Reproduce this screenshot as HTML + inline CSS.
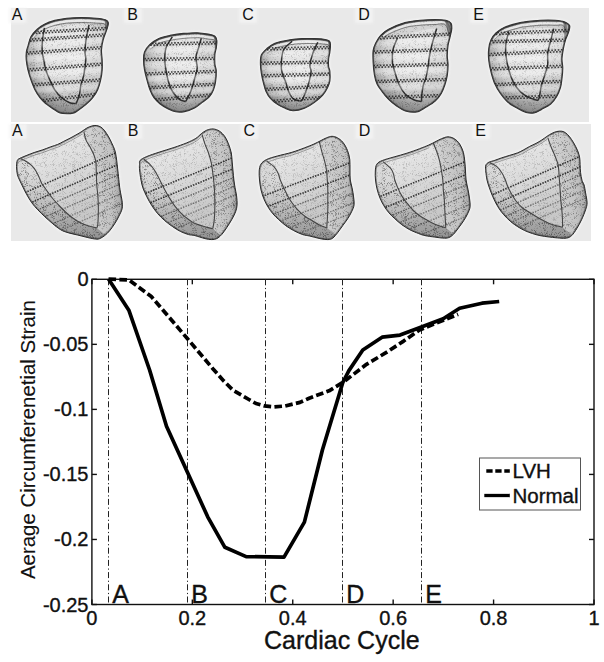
<!DOCTYPE html>
<html><head><meta charset="utf-8"><style>
html,body{margin:0;padding:0;background:#fff;width:604px;height:662px;overflow:hidden}
svg{position:absolute;left:0;top:0}
text{font-family:"Liberation Sans",sans-serif;fill:#111;stroke:#111;stroke-width:0.35px}
.t{font-size:20px}
.L{font-size:25px}
.g{font-size:20.5px}
.xl{font-size:25px}
.yl{font-size:20.4px;stroke-width:0.1px}
.pl{font-size:16px;stroke-width:0}
</style></head><body>
<svg width="604" height="662" viewBox="0 0 604 662">
<defs>

<filter id="grain" x="0" y="0" width="100%" height="100%" color-interpolation-filters="sRGB">
  <feTurbulence type="turbulence" baseFrequency="1.1" numOctaves="1" seed="7" result="n"/>
  <feColorMatrix in="n" type="matrix" values="0 0 0 0 0  0 0 0 0 0  0 0 0 0 0  3 0 0 0 -0.55" result="a"/>
  <feComposite in="a" in2="SourceGraphic" operator="in"/>
</filter>
<linearGradient id="sh1" x1="0" y1="0" x2="0" y2="1"><stop offset="0.55" stop-color="#000" stop-opacity="0"/><stop offset="1" stop-color="#000" stop-opacity="0.2"/></linearGradient>
<linearGradient id="gbot" x1="0" y1="0" x2="0" y2="1"><stop offset="0" stop-color="#777" stop-opacity="0"/><stop offset="0.4" stop-color="#777" stop-opacity="0.12"/><stop offset="1" stop-color="#666" stop-opacity="0.55"/></linearGradient>
<filter id="soft" x="-10%" y="-10%" width="120%" height="120%"><feGaussianBlur stdDeviation="1.2"/></filter>
<radialGradient id="g1" cx="0.58" cy="0.42" r="0.62"><stop offset="0" stop-color="#e0e0e0"/><stop offset="0.7" stop-color="#d0d0d0"/><stop offset="1" stop-color="#989898"/></radialGradient>
<linearGradient id="g2c" x1="0" y1="0" x2="0.3" y2="1"><stop offset="0" stop-color="#f2f2f2"/><stop offset="0.5" stop-color="#e0e0e0"/><stop offset="1" stop-color="#c8c8c8"/></linearGradient>
<linearGradient id="g2r" x1="0" y1="0" x2="1" y2="0"><stop offset="0" stop-color="#d4d4d4"/><stop offset="0.7" stop-color="#c2c2c2"/><stop offset="1" stop-color="#a2a2a2"/></linearGradient>
<radialGradient id="g2b" cx="0.15" cy="0.4" r="0.8"><stop offset="0" stop-color="#e0e0e0"/><stop offset="1" stop-color="#b8b8b8"/></radialGradient>
<clipPath id="c1A"><path d="M28.0,45.8 C28.8,43.3 29.4,39.5 30.9,36.8 C32.4,34.1 34.6,31.5 36.9,29.4 C39.1,27.3 41.4,25.7 44.4,24.2 C47.4,22.7 51.1,21.4 54.8,20.4 C58.5,19.4 62.2,18.7 66.7,18.2 C71.2,17.7 76.6,17.5 81.6,17.5 C86.6,17.5 92.5,17.8 96.5,18.2 C100.5,18.6 103.5,18.9 105.5,19.7 C107.5,20.4 108.2,21.1 108.4,22.7 C108.6,24.3 107.8,26.5 106.9,29.4 C106.0,32.2 104.1,36.4 103.2,39.8 C102.3,43.2 101.7,46.6 101.5,50.0 C101.3,53.4 102.1,56.7 102.2,60.0 C102.3,63.3 102.5,66.6 102.2,69.9 C102.0,73.2 101.5,76.6 100.7,79.9 C100.0,83.2 99.0,86.8 97.7,89.8 C96.4,92.8 94.8,95.2 92.8,97.7 C90.8,100.2 88.3,102.6 85.8,104.7 C83.3,106.8 80.1,109.1 78.0,110.5 C75.9,111.9 74.8,112.8 73.0,113.3 C71.2,113.8 69.2,113.8 67.0,113.8 C64.8,113.8 62.4,113.8 60.0,113.0 C57.6,112.2 55.2,110.2 52.8,108.7 C50.4,107.2 47.9,105.5 45.8,103.7 C43.6,101.9 41.7,100.0 39.9,97.7 C38.1,95.4 36.4,92.8 34.9,89.8 C33.4,86.8 32.1,83.2 30.9,79.9 C29.7,76.6 28.7,73.2 27.9,69.9 C27.1,66.6 26.5,63.0 26.2,60.0 C25.9,57.0 26.0,54.4 26.3,52.0 C26.6,49.6 27.2,48.3 28.0,45.8Z"/></clipPath><clipPath id="c1B"><path d="M149.9,44.4 C152.3,42.1 155.5,39.9 158.8,38.4 C162.2,36.9 165.9,36.2 170.0,35.4 C174.1,34.6 179.1,33.8 183.6,33.4 C188.1,33.0 193.1,32.6 197.2,32.7 C201.3,32.8 205.1,33.5 208.1,34.1 C211.1,34.7 213.4,35.0 214.9,36.1 C216.4,37.2 216.7,39.0 216.9,40.9 C217.1,42.8 216.6,45.4 216.3,47.7 C216.0,50.0 215.1,51.8 214.9,54.5 C214.7,57.2 214.7,61.3 214.9,64.0 C215.1,66.7 216.2,67.8 216.3,70.8 C216.4,73.8 216.1,78.5 215.6,81.7 C215.1,84.9 214.5,87.4 213.5,89.9 C212.5,92.4 211.3,94.7 209.5,96.7 C207.7,98.7 205.2,100.2 202.7,102.1 C200.2,104.0 197.5,106.4 194.5,108.0 C191.5,109.6 187.6,111.0 184.5,111.6 C181.4,112.2 178.5,112.3 175.7,111.8 C172.9,111.3 170.5,110.0 167.8,108.7 C165.2,107.4 162.1,105.5 159.8,103.7 C157.5,101.9 155.6,100.0 153.9,97.7 C152.2,95.4 151.1,92.8 149.9,89.8 C148.7,86.8 147.8,83.2 146.9,79.9 C146.0,76.6 145.1,73.2 144.5,69.9 C143.9,66.6 143.5,63.0 143.5,60.0 C143.5,57.0 143.4,54.6 144.5,52.0 C145.6,49.4 147.5,46.7 149.9,44.4Z"/></clipPath><clipPath id="c1C"><path d="M266.9,48.5 C269.2,46.5 271.0,44.7 274.9,43.2 C278.8,41.8 285.5,40.6 290.0,39.8 C294.5,39.0 298.1,38.8 302.1,38.6 C306.1,38.4 310.6,38.5 314.2,38.6 C317.8,38.7 321.3,38.8 323.8,39.2 C326.3,39.6 328.2,40.1 329.3,41.0 C330.4,41.9 330.4,42.9 330.5,44.7 C330.6,46.5 330.2,49.5 329.9,51.9 C329.6,54.3 328.8,56.8 328.6,59.2 C328.4,61.6 328.4,64.4 328.6,66.4 C328.8,68.4 329.7,68.8 329.9,71.2 C330.1,73.6 330.3,78.1 329.9,80.9 C329.5,83.7 328.6,85.7 327.4,88.1 C326.2,90.5 324.8,93.0 322.6,95.4 C320.4,97.8 317.2,100.4 314.2,102.6 C311.2,104.8 308.0,106.9 304.5,108.3 C301.0,109.7 296.4,110.9 293.0,110.8 C289.6,110.7 286.7,108.9 284.0,107.8 C281.3,106.7 279.0,105.5 276.7,103.9 C274.4,102.4 272.2,100.6 270.4,98.5 C268.6,96.4 267.1,93.9 265.9,91.2 C264.7,88.5 264.0,85.2 263.2,82.2 C262.4,79.2 261.8,76.1 261.3,73.1 C260.8,70.1 260.4,67.1 260.4,64.1 C260.4,61.1 260.2,57.6 261.3,55.0 C262.4,52.4 264.6,50.5 266.9,48.5Z"/></clipPath><clipPath id="c1D"><path d="M380.9,35.1 C383.0,32.8 384.6,31.3 388.6,29.2 C392.6,27.1 399.8,24.1 405.0,22.6 C410.2,21.1 415.1,20.8 420.1,20.3 C425.1,19.8 430.9,19.5 435.2,19.5 C439.5,19.5 443.1,19.7 445.8,20.3 C448.5,20.9 450.1,21.9 451.1,23.3 C452.1,24.7 451.9,26.5 451.8,28.6 C451.7,30.7 450.9,33.3 450.3,36.1 C449.7,38.9 448.6,41.9 448.1,45.2 C447.6,48.5 447.3,52.5 447.3,55.8 C447.3,59.1 448.1,61.5 448.1,64.8 C448.1,68.1 447.8,72.1 447.3,75.4 C446.8,78.7 446.0,81.5 445.0,84.5 C444.0,87.5 442.9,90.7 441.3,93.5 C439.7,96.3 437.7,98.8 435.2,101.1 C432.7,103.4 429.2,105.3 426.1,107.1 C423.0,108.9 420.3,111.3 416.8,112.0 C413.3,112.7 408.7,112.0 405.3,111.0 C401.9,110.0 399.1,107.7 396.3,105.8 C393.5,103.9 391.0,101.8 388.6,99.4 C386.2,97.1 384.0,94.3 382.1,91.7 C380.2,89.1 378.3,86.8 377.0,84.0 C375.7,81.2 375.0,78.7 374.4,75.0 C373.8,71.3 373.3,66.2 373.1,62.1 C372.9,58.0 372.7,53.8 373.1,50.6 C373.5,47.4 374.4,45.5 375.7,42.9 C377.0,40.3 378.8,37.4 380.9,35.1Z"/></clipPath><clipPath id="c1E"><path d="M495.9,32.9 C498.2,30.8 500.8,28.9 504.6,27.2 C508.4,25.5 515.5,23.8 518.9,22.9 C522.3,22.0 521.5,22.2 525.0,21.8 C528.5,21.4 535.1,20.6 540.1,20.3 C545.1,20.1 551.2,20.1 555.2,20.3 C559.2,20.6 561.9,20.9 564.3,21.8 C566.7,22.7 568.9,24.0 569.6,25.6 C570.4,27.2 569.4,29.3 568.8,31.6 C568.2,33.9 566.7,36.4 565.8,39.2 C564.9,42.0 564.1,44.9 563.5,48.2 C562.9,51.5 562.1,55.5 562.0,58.8 C561.9,62.1 562.8,64.6 562.8,67.9 C562.8,71.2 562.4,75.1 562.0,78.4 C561.6,81.7 561.4,84.5 560.5,87.5 C559.6,90.5 558.3,93.8 556.7,96.6 C555.1,99.4 553.2,102.0 550.7,104.1 C548.2,106.2 544.4,107.9 541.6,109.4 C538.8,110.9 536.6,112.5 534.0,113.0 C531.4,113.5 529.1,113.4 526.1,112.5 C523.1,111.6 519.1,109.4 516.0,107.6 C512.9,105.8 510.0,104.3 507.4,101.9 C504.8,99.5 502.3,96.4 500.2,93.3 C498.1,90.2 496.1,86.8 494.5,83.2 C492.9,79.6 491.9,75.5 490.9,71.7 C489.9,67.9 489.1,64.0 488.7,60.2 C488.3,56.4 488.3,52.1 488.7,48.7 C489.1,45.4 489.7,42.7 490.9,40.1 C492.1,37.5 493.6,35.0 495.9,32.9Z"/></clipPath><clipPath id="c2A"><path d="M17.3,160.4 C17.9,159.0 18.3,159.2 19.9,158.3 C21.5,157.5 24.4,156.3 26.9,155.3 C29.4,154.3 32.1,153.2 34.8,152.3 C37.4,151.4 40.1,150.7 42.8,149.8 C45.4,148.9 48.2,147.7 50.7,146.8 C53.2,145.9 55.6,145.3 57.7,144.4 C59.9,143.5 61.6,142.4 63.6,141.4 C65.7,140.4 67.9,139.3 70.0,138.2 C72.1,137.1 74.0,136.0 76.0,134.9 C78.0,133.8 80.1,132.6 81.9,131.4 C83.7,130.2 85.2,128.9 86.9,128.0 C88.6,127.1 90.2,126.4 91.8,126.0 C93.4,125.6 94.8,125.3 96.3,125.5 C97.8,125.7 99.4,126.1 100.8,127.0 C102.2,127.9 103.5,129.2 104.8,130.9 C106.1,132.6 107.5,134.9 108.7,136.9 C109.9,138.9 110.7,140.8 111.7,142.9 C112.7,145.1 114.0,147.5 114.7,149.8 C115.5,152.1 115.8,154.3 116.2,156.8 C116.6,159.3 116.9,161.9 117.2,164.7 C117.5,167.5 117.8,170.2 118.2,173.6 C118.6,177.0 119.0,181.8 119.4,185.0 C119.8,188.2 120.1,190.2 120.6,192.9 C121.0,195.6 121.8,198.2 122.1,200.9 C122.3,203.6 122.7,206.2 122.1,208.8 C121.5,211.5 119.8,214.3 118.6,216.8 C117.4,219.3 116.2,221.4 114.7,223.7 C113.2,226.0 111.4,228.7 109.7,230.7 C108.0,232.7 106.4,234.3 104.7,235.6 C103.0,236.9 101.3,238.0 99.8,238.6 C98.3,239.2 97.8,239.3 95.8,239.1 C93.8,238.9 90.9,238.3 87.9,237.6 C84.9,236.9 81.2,235.9 77.9,235.1 C74.6,234.3 70.9,233.6 68.0,232.7 C65.1,231.8 63.1,231.2 60.6,229.7 C58.1,228.2 55.3,225.9 52.7,223.7 C50.1,221.5 47.3,219.0 44.8,216.7 C42.3,214.4 40.0,212.1 37.8,209.8 C35.6,207.5 33.6,205.3 31.8,202.8 C30.0,200.3 28.4,197.5 26.9,194.9 C25.4,192.3 24.1,189.5 22.9,187.0 C21.7,184.5 20.4,182.1 19.5,180.0 C18.6,177.9 17.9,176.9 17.4,174.7 C16.9,172.5 16.5,169.1 16.5,166.7 C16.5,164.3 16.7,161.8 17.3,160.4Z"/></clipPath><clipPath id="c2B"><path d="M140.2,160.3 C141.4,159.0 143.4,158.0 146.6,156.6 C149.8,155.2 154.8,153.6 159.3,152.1 C163.9,150.6 169.4,149.0 173.9,147.5 C178.4,146.0 182.9,144.4 186.6,142.9 C190.2,141.4 193.4,139.9 195.8,138.4 C198.2,136.9 199.4,135.2 201.2,133.8 C203.0,132.4 204.7,131.0 206.7,130.2 C208.7,129.4 211.0,128.8 213.1,128.9 C215.2,129.1 217.4,129.8 219.4,131.1 C221.4,132.4 223.4,134.5 224.9,136.6 C226.4,138.7 227.4,141.2 228.5,143.9 C229.6,146.6 230.7,150.0 231.3,153.0 C231.9,156.0 231.9,159.0 232.2,162.0 C232.5,165.0 232.7,168.0 233.0,171.0 C233.3,174.0 233.6,177.2 233.9,180.0 C234.2,182.8 234.7,185.2 235.1,187.9 C235.5,190.6 236.3,193.1 236.6,195.9 C236.9,198.7 237.3,202.2 237.1,204.8 C236.9,207.5 236.5,209.3 235.6,211.8 C234.7,214.3 233.2,217.0 231.7,219.7 C230.2,222.3 228.4,225.2 226.7,227.7 C225.0,230.2 223.3,232.8 221.7,234.6 C220.0,236.4 218.5,237.8 216.8,238.6 C215.2,239.4 213.8,239.6 211.8,239.6 C209.8,239.6 207.7,239.3 204.9,238.6 C202.1,237.9 197.6,236.3 194.9,235.6 C192.2,234.9 191.0,235.3 188.6,234.6 C186.2,233.9 183.3,232.9 180.7,231.6 C178.0,230.3 175.3,228.5 172.7,226.7 C170.0,224.9 167.3,222.8 164.8,220.7 C162.3,218.5 160.0,216.3 157.8,213.8 C155.7,211.3 153.7,208.6 151.9,205.8 C150.1,203.0 148.4,199.9 146.9,196.9 C145.4,193.9 143.9,190.7 142.9,187.9 C141.9,185.1 141.6,183.0 141.0,180.0 C140.4,177.0 139.8,172.6 139.6,170.0 C139.3,167.4 139.4,166.1 139.5,164.5 C139.6,162.9 139.0,161.6 140.2,160.3Z"/></clipPath><clipPath id="c2C"><path d="M260.9,164.2 C262.1,162.3 263.7,161.0 266.4,159.6 C269.1,158.2 273.1,157.2 277.3,156.0 C281.6,154.8 287.3,153.7 291.9,152.3 C296.4,150.9 301.0,149.2 304.6,147.8 C308.2,146.4 311.1,145.3 313.8,144.1 C316.5,142.9 318.9,141.6 321.0,140.5 C323.1,139.4 324.7,138.5 326.5,137.8 C328.3,137.1 330.2,136.3 332.0,136.3 C333.8,136.3 335.6,136.8 337.4,137.8 C339.2,138.8 341.2,140.2 342.9,142.3 C344.6,144.4 346.4,147.6 347.5,150.5 C348.6,153.4 349.4,156.3 349.8,159.6 C350.2,162.8 349.9,166.6 350.0,170.0 C350.1,173.4 349.9,177.0 350.3,180.0 C350.7,183.0 351.6,185.1 352.1,187.9 C352.7,190.7 353.3,194.1 353.6,196.9 C353.9,199.7 354.4,202.3 354.1,204.8 C353.8,207.3 352.7,209.5 351.6,211.8 C350.5,214.1 349.2,216.4 347.7,218.7 C346.2,221.0 344.4,223.4 342.7,225.7 C341.0,228.0 339.3,230.5 337.7,232.6 C336.1,234.7 334.4,236.9 332.8,238.1 C331.2,239.3 330.0,239.5 327.8,239.6 C325.6,239.7 322.9,239.2 319.9,238.6 C316.9,238.0 312.8,236.8 309.9,236.1 C307.0,235.4 305.4,235.5 302.7,234.6 C300.0,233.7 296.5,232.1 293.7,230.6 C290.9,229.1 288.3,227.5 285.8,225.7 C283.3,223.9 281.0,221.7 278.8,219.7 C276.6,217.7 274.7,216.0 272.9,213.8 C271.1,211.7 269.4,209.3 267.9,206.8 C266.4,204.3 265.0,201.7 263.9,198.9 C262.8,196.1 261.7,193.1 261.0,189.9 C260.3,186.8 259.8,183.2 259.5,180.0 C259.2,176.8 259.0,173.6 259.2,171.0 C259.4,168.4 259.7,166.1 260.9,164.2Z"/></clipPath><clipPath id="c2D"><path d="M376.8,164.2 C378.0,162.4 379.4,161.7 382.3,160.5 C385.2,159.3 390.0,158.1 394.1,156.9 C398.2,155.7 402.6,154.6 406.9,153.2 C411.1,151.8 416.0,150.1 419.6,148.7 C423.2,147.3 426.1,146.2 428.8,145.0 C431.5,143.8 433.9,142.5 436.0,141.4 C438.1,140.3 439.5,139.5 441.5,138.7 C443.5,137.9 445.8,136.8 447.9,136.8 C450.0,136.8 452.3,137.5 454.3,138.7 C456.3,139.9 458.2,141.8 459.7,144.1 C461.2,146.4 462.5,149.4 463.4,152.3 C464.2,155.2 464.4,158.3 464.8,161.4 C465.2,164.5 465.3,167.9 465.5,171.0 C465.7,174.1 465.7,176.8 466.1,180.0 C466.5,183.2 467.5,186.8 468.1,189.9 C468.7,193.1 469.3,196.1 469.6,198.9 C469.9,201.7 470.4,204.3 470.1,206.8 C469.8,209.3 468.7,211.5 467.6,213.8 C466.5,216.1 465.2,218.4 463.7,220.7 C462.2,223.0 460.4,225.5 458.7,227.7 C457.0,229.9 455.3,232.4 453.7,234.1 C452.1,235.8 450.6,236.9 448.8,237.6 C447.0,238.3 445.1,238.2 442.8,238.1 C440.5,238.0 437.9,237.5 434.9,237.1 C431.9,236.7 427.6,236.2 424.9,235.6 C422.2,235.0 421.2,234.6 418.7,233.6 C416.2,232.6 412.5,231.2 409.7,229.7 C406.9,228.2 404.3,226.5 401.8,224.7 C399.3,222.9 397.0,220.7 394.8,218.7 C392.6,216.7 390.7,215.0 388.9,212.8 C387.1,210.7 385.4,208.3 383.9,205.8 C382.4,203.3 381.0,200.7 379.9,197.9 C378.8,195.1 377.7,191.9 377.0,188.9 C376.3,185.9 375.8,183.0 375.5,180.0 C375.2,177.0 375.1,173.6 375.3,171.0 C375.5,168.4 375.6,165.9 376.8,164.2Z"/></clipPath><clipPath id="c2E"><path d="M486.0,164.7 C486.6,163.7 487.4,162.9 488.9,162.2 C490.4,161.5 492.8,161.0 494.9,160.3 C497.0,159.6 499.3,158.6 501.8,157.8 C504.3,157.0 507.1,156.1 509.8,155.3 C512.5,154.5 515.4,153.7 517.7,152.8 C520.0,151.9 521.7,150.9 523.7,149.8 C525.7,148.7 527.7,147.5 529.7,146.4 C531.8,145.3 534.0,144.5 536.0,143.4 C538.0,142.3 540.1,141.1 541.9,139.9 C543.7,138.7 545.2,137.5 546.9,136.4 C548.5,135.3 550.1,134.2 551.8,133.4 C553.4,132.6 555.1,131.9 556.8,131.5 C558.5,131.1 560.3,131.0 561.8,131.2 C563.3,131.4 564.4,131.9 565.7,132.9 C567.0,133.9 568.4,135.2 569.7,136.9 C571.0,138.6 572.4,140.6 573.7,142.9 C575.0,145.2 576.7,148.3 577.7,150.8 C578.7,153.3 579.3,155.5 579.7,157.8 C580.1,160.1 580.0,162.2 580.1,164.7 C580.2,167.2 580.3,170.1 580.6,172.7 C580.9,175.3 581.4,178.2 582.0,180.3 C582.6,182.4 583.5,182.9 584.1,185.0 C584.7,187.1 585.1,189.9 585.6,192.9 C586.1,195.9 587.1,200.0 587.1,202.8 C587.1,205.6 586.5,207.0 585.6,209.8 C584.7,212.6 583.1,216.5 581.6,219.7 C580.1,222.8 578.4,226.0 576.7,228.7 C575.1,231.3 573.4,234.0 571.7,235.6 C570.0,237.2 568.7,237.7 566.7,238.1 C564.7,238.5 562.6,238.3 559.8,238.1 C557.0,237.9 553.2,237.5 549.9,237.1 C546.6,236.7 542.8,236.2 539.9,235.6 C537.0,235.0 535.1,234.4 532.6,233.6 C530.1,232.8 527.2,231.8 524.7,230.6 C522.2,229.4 520.0,228.2 517.7,226.7 C515.4,225.2 513.1,223.7 510.8,221.7 C508.5,219.7 506.0,217.3 503.8,214.8 C501.6,212.3 499.7,209.8 497.9,206.8 C496.1,203.8 494.3,200.1 492.9,196.9 C491.5,193.8 490.4,190.7 489.4,187.9 C488.4,185.1 487.6,182.7 487.0,180.0 C486.4,177.3 486.1,174.0 485.8,172.0 C485.6,170.0 485.5,169.2 485.5,168.0 C485.5,166.8 485.4,165.7 486.0,164.7Z"/></clipPath>
</defs>
<rect x="11" y="8" width="578" height="114" fill="#e9e9e9"/>
<rect x="11" y="124" width="580" height="117" fill="#e9e9e9"/>
<path d="M28.0,45.8 C28.8,43.3 29.4,39.5 30.9,36.8 C32.4,34.1 34.6,31.5 36.9,29.4 C39.1,27.3 41.4,25.7 44.4,24.2 C47.4,22.7 51.1,21.4 54.8,20.4 C58.5,19.4 62.2,18.7 66.7,18.2 C71.2,17.7 76.6,17.5 81.6,17.5 C86.6,17.5 92.5,17.8 96.5,18.2 C100.5,18.6 103.5,18.9 105.5,19.7 C107.5,20.4 108.2,21.1 108.4,22.7 C108.6,24.3 107.8,26.5 106.9,29.4 C106.0,32.2 104.1,36.4 103.2,39.8 C102.3,43.2 101.7,46.6 101.5,50.0 C101.3,53.4 102.1,56.7 102.2,60.0 C102.3,63.3 102.5,66.6 102.2,69.9 C102.0,73.2 101.5,76.6 100.7,79.9 C100.0,83.2 99.0,86.8 97.7,89.8 C96.4,92.8 94.8,95.2 92.8,97.7 C90.8,100.2 88.3,102.6 85.8,104.7 C83.3,106.8 80.1,109.1 78.0,110.5 C75.9,111.9 74.8,112.8 73.0,113.3 C71.2,113.8 69.2,113.8 67.0,113.8 C64.8,113.8 62.4,113.8 60.0,113.0 C57.6,112.2 55.2,110.2 52.8,108.7 C50.4,107.2 47.9,105.5 45.8,103.7 C43.6,101.9 41.7,100.0 39.9,97.7 C38.1,95.4 36.4,92.8 34.9,89.8 C33.4,86.8 32.1,83.2 30.9,79.9 C29.7,76.6 28.7,73.2 27.9,69.9 C27.1,66.6 26.5,63.0 26.2,60.0 C25.9,57.0 26.0,54.4 26.3,52.0 C26.6,49.6 27.2,48.3 28.0,45.8Z" fill="none" stroke="#fff" stroke-width="3" opacity="0.6" filter="url(#soft)"/>\n<g clip-path="url(#c1A)">\n<path d="M28.0,45.8 C28.8,43.3 29.4,39.5 30.9,36.8 C32.4,34.1 34.6,31.5 36.9,29.4 C39.1,27.3 41.4,25.7 44.4,24.2 C47.4,22.7 51.1,21.4 54.8,20.4 C58.5,19.4 62.2,18.7 66.7,18.2 C71.2,17.7 76.6,17.5 81.6,17.5 C86.6,17.5 92.5,17.8 96.5,18.2 C100.5,18.6 103.5,18.9 105.5,19.7 C107.5,20.4 108.2,21.1 108.4,22.7 C108.6,24.3 107.8,26.5 106.9,29.4 C106.0,32.2 104.1,36.4 103.2,39.8 C102.3,43.2 101.7,46.6 101.5,50.0 C101.3,53.4 102.1,56.7 102.2,60.0 C102.3,63.3 102.5,66.6 102.2,69.9 C102.0,73.2 101.5,76.6 100.7,79.9 C100.0,83.2 99.0,86.8 97.7,89.8 C96.4,92.8 94.8,95.2 92.8,97.7 C90.8,100.2 88.3,102.6 85.8,104.7 C83.3,106.8 80.1,109.1 78.0,110.5 C75.9,111.9 74.8,112.8 73.0,113.3 C71.2,113.8 69.2,113.8 67.0,113.8 C64.8,113.8 62.4,113.8 60.0,113.0 C57.6,112.2 55.2,110.2 52.8,108.7 C50.4,107.2 47.9,105.5 45.8,103.7 C43.6,101.9 41.7,100.0 39.9,97.7 C38.1,95.4 36.4,92.8 34.9,89.8 C33.4,86.8 32.1,83.2 30.9,79.9 C29.7,76.6 28.7,73.2 27.9,69.9 C27.1,66.6 26.5,63.0 26.2,60.0 C25.9,57.0 26.0,54.4 26.3,52.0 C26.6,49.6 27.2,48.3 28.0,45.8Z" fill="url(#g1)"/>\n<path d="M44.4,27.9 C36.6,30.4 42.9,36.0 42.5,40.0 C42.1,44.0 42.0,48.4 42.2,51.7 C42.4,55.0 43.2,57.0 43.8,60.0 C44.4,63.0 44.8,66.6 45.8,69.9 C46.8,73.2 48.3,76.6 49.8,79.9 C51.3,83.2 52.8,86.8 54.8,89.8 C56.8,92.8 59.2,95.5 61.7,97.7 C64.2,99.9 67.4,101.7 69.7,102.7 C72.0,103.7 74.4,103.9 75.6,103.7 C76.8,103.5 76.3,103.2 76.9,101.7 C77.5,100.2 78.7,97.6 79.4,94.8 C80.1,92.0 80.2,88.1 80.9,84.8 C81.6,81.5 83.0,79.0 83.8,74.9 C84.6,70.8 85.6,63.8 85.8,60.0 C86.0,56.2 85.0,55.3 85.0,52.0 C85.0,48.7 85.3,44.5 86.0,40.0 C86.7,35.5 95.9,26.9 89.0,24.9 C82.1,22.9 52.1,25.4 44.4,27.9Z" fill="#ececec" opacity="0.6"/>\n<rect x="26.2" y="17.5" width="82.2" height="96.3" fill="url(#sh1)"/>\n<rect x="26.2" y="17.5" width="82.2" height="96.3" fill="#000" filter="url(#grain)" opacity="0.22"/>\n<path d="M30.9,40.0 C31.9,38.8 34.6,34.7 36.9,32.6 C39.1,30.5 41.4,28.9 44.4,27.4 C47.4,25.9 51.1,24.6 54.8,23.6 C58.5,22.6 62.2,21.9 66.7,21.4 C71.2,20.9 76.6,20.7 81.6,20.7 C86.6,20.7 92.5,21.0 96.5,21.4 C100.5,21.8 103.8,21.0 105.5,22.9 C107.2,24.8 106.4,32.1 106.9,32.6 C107.4,33.1 108.2,27.0 108.4,25.9" fill="none" stroke="#f4f4f4" stroke-width="2.2" opacity="0.7"/>\n<path d="M30.9,36.8 C31.9,35.6 34.6,31.5 36.9,29.4 C39.1,27.3 41.4,25.7 44.4,24.2 C47.4,22.7 51.1,21.4 54.8,20.4 C58.5,19.4 62.2,18.7 66.7,18.2 C71.2,17.7 76.6,17.5 81.6,17.5 C86.6,17.5 92.5,17.8 96.5,18.2 C100.5,18.6 103.8,17.8 105.5,19.7 C107.2,21.6 106.4,28.9 106.9,29.4 C107.4,29.9 108.2,23.8 108.4,22.7" fill="none" stroke="#2a2a2a" stroke-width="3" opacity="0.55"/>\n<path d="M30.9,41.8 C31.9,40.6 34.6,36.5 36.9,34.4 C39.1,32.3 41.4,30.7 44.4,29.2 C47.4,27.7 51.1,26.4 54.8,25.4 C58.5,24.4 62.2,23.7 66.7,23.2 C71.2,22.7 76.6,22.5 81.6,22.5 C86.6,22.5 92.5,22.8 96.5,23.2 C100.5,23.6 103.8,22.8 105.5,24.7 C107.2,26.6 106.4,33.9 106.9,34.4 C107.4,34.9 108.2,28.8 108.4,27.7" fill="none" stroke="#444" stroke-width="1" opacity="0.6"/>\n<path d="M44.4,27.9 C44.1,29.9 42.9,36.0 42.5,40.0 C42.1,44.0 42.0,48.4 42.2,51.7 C42.4,55.0 43.2,57.0 43.8,60.0 C44.4,63.0 44.8,66.6 45.8,69.9 C46.8,73.2 48.3,76.6 49.8,79.9 C51.3,83.2 52.8,86.8 54.8,89.8 C56.8,92.8 59.2,95.5 61.7,97.7 C64.2,99.9 67.4,101.7 69.7,102.7 C72.0,103.7 74.6,103.5 75.6,103.7" fill="none" stroke="#2e2e2e" stroke-width="1.5"/>\n<path d="M89.0,24.9 C88.5,27.4 86.7,35.5 86.0,40.0 C85.3,44.5 85.0,48.7 85.0,52.0 C85.0,55.3 86.0,56.2 85.8,60.0 C85.6,63.8 84.6,70.8 83.8,74.9 C83.0,79.0 81.6,81.5 80.9,84.8 C80.2,88.1 80.1,92.0 79.4,94.8 C78.7,97.6 77.5,100.2 76.9,101.7 C76.3,103.2 75.8,103.4 75.6,103.7" fill="none" stroke="#2e2e2e" stroke-width="1.5"/>\n<path d="M21.2,34.9 L113.4,31.3 L113.4,34.2 L21.2,37.8Z" fill="#fff" opacity="0.33" filter="url(#soft)"/>\n<path d="M21.2,42.8 L113.4,37.3 L113.4,42.6 L21.2,48.1Z" fill="#fff" opacity="0.33" filter="url(#soft)"/>\n<path d="M21.2,55.7 L113.4,49.8 L113.4,56.9 L21.2,62.8Z" fill="#fff" opacity="0.33" filter="url(#soft)"/>\n<path d="M21.2,72.6 L113.4,66.5 L113.4,73.0 L21.2,79.1Z" fill="#fff" opacity="0.33" filter="url(#soft)"/>\n<path d="M21.2,87.7 L113.4,82.4 L113.4,88.8 L21.2,94.1Z" fill="#fff" opacity="0.33" filter="url(#soft)"/>\n<line x1="30.9" y1="31.8" x2="106.0" y2="27.6" stroke="#1a1a1a" stroke-width="1.6" stroke-dasharray="1.6,1.6" opacity="0.8"/>\n<line x1="32.5" y1="33.6" x2="106.0" y2="29.4" stroke="#1a1a1a" stroke-width="1.6" stroke-dasharray="1.6,1.6" opacity="0.8"/>\n<line x1="22.0" y1="39.8" x2="110.0" y2="33.5" stroke="#1a1a1a" stroke-width="1.6" stroke-dasharray="1.6,1.6" opacity="0.8"/>\n<line x1="23.6" y1="41.6" x2="110.0" y2="35.3" stroke="#1a1a1a" stroke-width="1.6" stroke-dasharray="1.6,1.6" opacity="0.8"/>\n<line x1="20.0" y1="52.7" x2="111.0" y2="46.0" stroke="#1a1a1a" stroke-width="1.6" stroke-dasharray="1.6,1.6" opacity="0.8"/>\n<line x1="21.6" y1="54.5" x2="111.0" y2="47.8" stroke="#1a1a1a" stroke-width="1.6" stroke-dasharray="1.6,1.6" opacity="0.8"/>\n<line x1="20.0" y1="69.7" x2="110.0" y2="62.6" stroke="#1a1a1a" stroke-width="1.6" stroke-dasharray="1.6,1.6" opacity="0.8"/>\n<line x1="21.6" y1="71.5" x2="110.0" y2="64.4" stroke="#1a1a1a" stroke-width="1.6" stroke-dasharray="1.6,1.6" opacity="0.8"/>\n<line x1="22.0" y1="84.7" x2="106.0" y2="78.6" stroke="#1a1a1a" stroke-width="1.6" stroke-dasharray="1.6,1.6" opacity="0.8"/>\n<line x1="23.6" y1="86.5" x2="106.0" y2="80.4" stroke="#1a1a1a" stroke-width="1.6" stroke-dasharray="1.6,1.6" opacity="0.8"/>\n<line x1="30.0" y1="101.1" x2="102.0" y2="92.9" stroke="#1a1a1a" stroke-width="1.6" stroke-dasharray="1.6,1.6" opacity="0.8"/>\n<line x1="31.6" y1="102.9" x2="102.0" y2="94.7" stroke="#1a1a1a" stroke-width="1.6" stroke-dasharray="1.6,1.6" opacity="0.8"/>\n<path d="M28.0,45.8 C28.8,43.3 29.4,39.5 30.9,36.8 C32.4,34.1 34.6,31.5 36.9,29.4 C39.1,27.3 41.4,25.7 44.4,24.2 C47.4,22.7 51.1,21.4 54.8,20.4 C58.5,19.4 62.2,18.7 66.7,18.2 C71.2,17.7 76.6,17.5 81.6,17.5 C86.6,17.5 92.5,17.8 96.5,18.2 C100.5,18.6 103.5,18.9 105.5,19.7 C107.5,20.4 108.2,21.1 108.4,22.7 C108.6,24.3 107.8,26.5 106.9,29.4 C106.0,32.2 104.1,36.4 103.2,39.8 C102.3,43.2 101.7,46.6 101.5,50.0 C101.3,53.4 102.1,56.7 102.2,60.0 C102.3,63.3 102.5,66.6 102.2,69.9 C102.0,73.2 101.5,76.6 100.7,79.9 C100.0,83.2 99.0,86.8 97.7,89.8 C96.4,92.8 94.8,95.2 92.8,97.7 C90.8,100.2 88.3,102.6 85.8,104.7 C83.3,106.8 80.1,109.1 78.0,110.5 C75.9,111.9 74.8,112.8 73.0,113.3 C71.2,113.8 69.2,113.8 67.0,113.8 C64.8,113.8 62.4,113.8 60.0,113.0 C57.6,112.2 55.2,110.2 52.8,108.7 C50.4,107.2 47.9,105.5 45.8,103.7 C43.6,101.9 41.7,100.0 39.9,97.7 C38.1,95.4 36.4,92.8 34.9,89.8 C33.4,86.8 32.1,83.2 30.9,79.9 C29.7,76.6 28.7,73.2 27.9,69.9 C27.1,66.6 26.5,63.0 26.2,60.0 C25.9,57.0 26.0,54.4 26.3,52.0 C26.6,49.6 27.2,48.3 28.0,45.8Z" fill="none" stroke="#222" stroke-width="2.4" opacity="0.55"/>\n</g>\n<path d="M28.0,45.8 C28.8,43.3 29.4,39.5 30.9,36.8 C32.4,34.1 34.6,31.5 36.9,29.4 C39.1,27.3 41.4,25.7 44.4,24.2 C47.4,22.7 51.1,21.4 54.8,20.4 C58.5,19.4 62.2,18.7 66.7,18.2 C71.2,17.7 76.6,17.5 81.6,17.5 C86.6,17.5 92.5,17.8 96.5,18.2 C100.5,18.6 103.5,18.9 105.5,19.7 C107.5,20.4 108.2,21.1 108.4,22.7 C108.6,24.3 107.8,26.5 106.9,29.4 C106.0,32.2 104.1,36.4 103.2,39.8 C102.3,43.2 101.7,46.6 101.5,50.0 C101.3,53.4 102.1,56.7 102.2,60.0 C102.3,63.3 102.5,66.6 102.2,69.9 C102.0,73.2 101.5,76.6 100.7,79.9 C100.0,83.2 99.0,86.8 97.7,89.8 C96.4,92.8 94.8,95.2 92.8,97.7 C90.8,100.2 88.3,102.6 85.8,104.7 C83.3,106.8 80.1,109.1 78.0,110.5 C75.9,111.9 74.8,112.8 73.0,113.3 C71.2,113.8 69.2,113.8 67.0,113.8 C64.8,113.8 62.4,113.8 60.0,113.0 C57.6,112.2 55.2,110.2 52.8,108.7 C50.4,107.2 47.9,105.5 45.8,103.7 C43.6,101.9 41.7,100.0 39.9,97.7 C38.1,95.4 36.4,92.8 34.9,89.8 C33.4,86.8 32.1,83.2 30.9,79.9 C29.7,76.6 28.7,73.2 27.9,69.9 C27.1,66.6 26.5,63.0 26.2,60.0 C25.9,57.0 26.0,54.4 26.3,52.0 C26.6,49.6 27.2,48.3 28.0,45.8Z" fill="none" stroke="#333" stroke-width="1.1"/><path d="M149.9,44.4 C152.3,42.1 155.5,39.9 158.8,38.4 C162.2,36.9 165.9,36.2 170.0,35.4 C174.1,34.6 179.1,33.8 183.6,33.4 C188.1,33.0 193.1,32.6 197.2,32.7 C201.3,32.8 205.1,33.5 208.1,34.1 C211.1,34.7 213.4,35.0 214.9,36.1 C216.4,37.2 216.7,39.0 216.9,40.9 C217.1,42.8 216.6,45.4 216.3,47.7 C216.0,50.0 215.1,51.8 214.9,54.5 C214.7,57.2 214.7,61.3 214.9,64.0 C215.1,66.7 216.2,67.8 216.3,70.8 C216.4,73.8 216.1,78.5 215.6,81.7 C215.1,84.9 214.5,87.4 213.5,89.9 C212.5,92.4 211.3,94.7 209.5,96.7 C207.7,98.7 205.2,100.2 202.7,102.1 C200.2,104.0 197.5,106.4 194.5,108.0 C191.5,109.6 187.6,111.0 184.5,111.6 C181.4,112.2 178.5,112.3 175.7,111.8 C172.9,111.3 170.5,110.0 167.8,108.7 C165.2,107.4 162.1,105.5 159.8,103.7 C157.5,101.9 155.6,100.0 153.9,97.7 C152.2,95.4 151.1,92.8 149.9,89.8 C148.7,86.8 147.8,83.2 146.9,79.9 C146.0,76.6 145.1,73.2 144.5,69.9 C143.9,66.6 143.5,63.0 143.5,60.0 C143.5,57.0 143.4,54.6 144.5,52.0 C145.6,49.4 147.5,46.7 149.9,44.4Z" fill="none" stroke="#fff" stroke-width="3" opacity="0.6" filter="url(#soft)"/>\n<g clip-path="url(#c1B)">\n<path d="M149.9,44.4 C152.3,42.1 155.5,39.9 158.8,38.4 C162.2,36.9 165.9,36.2 170.0,35.4 C174.1,34.6 179.1,33.8 183.6,33.4 C188.1,33.0 193.1,32.6 197.2,32.7 C201.3,32.8 205.1,33.5 208.1,34.1 C211.1,34.7 213.4,35.0 214.9,36.1 C216.4,37.2 216.7,39.0 216.9,40.9 C217.1,42.8 216.6,45.4 216.3,47.7 C216.0,50.0 215.1,51.8 214.9,54.5 C214.7,57.2 214.7,61.3 214.9,64.0 C215.1,66.7 216.2,67.8 216.3,70.8 C216.4,73.8 216.1,78.5 215.6,81.7 C215.1,84.9 214.5,87.4 213.5,89.9 C212.5,92.4 211.3,94.7 209.5,96.7 C207.7,98.7 205.2,100.2 202.7,102.1 C200.2,104.0 197.5,106.4 194.5,108.0 C191.5,109.6 187.6,111.0 184.5,111.6 C181.4,112.2 178.5,112.3 175.7,111.8 C172.9,111.3 170.5,110.0 167.8,108.7 C165.2,107.4 162.1,105.5 159.8,103.7 C157.5,101.9 155.6,100.0 153.9,97.7 C152.2,95.4 151.1,92.8 149.9,89.8 C148.7,86.8 147.8,83.2 146.9,79.9 C146.0,76.6 145.1,73.2 144.5,69.9 C143.9,66.6 143.5,63.0 143.5,60.0 C143.5,57.0 143.4,54.6 144.5,52.0 C145.6,49.4 147.5,46.7 149.9,44.4Z" fill="url(#g1)"/>\n<path d="M172.3,36.9 C166.4,38.5 167.2,44.1 166.0,48.0 C164.8,51.9 164.7,55.5 164.8,60.0 C164.9,64.5 166.0,70.6 166.8,74.9 C167.6,79.2 168.7,82.8 169.8,85.8 C170.9,88.8 171.8,90.7 173.5,93.0 C175.2,95.3 177.7,98.3 179.7,99.7 C181.7,101.1 184.1,102.2 185.7,101.5 C187.2,100.8 188.0,97.5 189.0,95.3 C190.0,93.1 190.9,91.2 191.8,88.5 C192.7,85.8 193.6,82.4 194.5,79.0 C195.4,75.6 197.0,71.7 197.2,68.1 C197.4,64.5 195.7,60.6 195.9,57.2 C196.1,53.8 197.7,50.9 198.6,47.7 C199.5,44.5 205.7,40.0 201.3,38.2 C196.9,36.4 178.2,35.3 172.3,36.9Z" fill="#ececec" opacity="0.6"/>\n<rect x="143.5" y="32.7" width="73.4" height="79.1" fill="url(#sh1)"/>\n<rect x="143.5" y="32.7" width="73.4" height="79.1" fill="#000" filter="url(#grain)" opacity="0.22"/>\n<path d="M149.9,47.6 C151.4,46.6 155.5,43.1 158.8,41.6 C162.2,40.1 165.9,39.4 170.0,38.6 C174.1,37.8 179.1,37.0 183.6,36.6 C188.1,36.2 193.1,35.8 197.2,35.9 C201.3,36.0 205.1,36.7 208.1,37.3 C211.1,37.9 213.5,37.0 214.9,39.3 C216.3,41.6 216.0,50.1 216.3,50.9 C216.6,51.7 216.8,45.2 216.9,44.1" fill="none" stroke="#f4f4f4" stroke-width="2.2" opacity="0.7"/>\n<path d="M149.9,44.4 C151.4,43.4 155.5,39.9 158.8,38.4 C162.2,36.9 165.9,36.2 170.0,35.4 C174.1,34.6 179.1,33.8 183.6,33.4 C188.1,33.0 193.1,32.6 197.2,32.7 C201.3,32.8 205.1,33.5 208.1,34.1 C211.1,34.7 213.5,33.8 214.9,36.1 C216.3,38.4 216.0,46.9 216.3,47.7 C216.6,48.5 216.8,42.0 216.9,40.9" fill="none" stroke="#2a2a2a" stroke-width="3" opacity="0.55"/>\n<path d="M149.9,49.4 C151.4,48.4 155.5,44.9 158.8,43.4 C162.2,41.9 165.9,41.2 170.0,40.4 C174.1,39.6 179.1,38.8 183.6,38.4 C188.1,38.0 193.1,37.6 197.2,37.7 C201.3,37.8 205.1,38.5 208.1,39.1 C211.1,39.7 213.5,38.8 214.9,41.1 C216.3,43.4 216.0,51.9 216.3,52.7 C216.6,53.5 216.8,47.0 216.9,45.9" fill="none" stroke="#444" stroke-width="1" opacity="0.6"/>\n<path d="M172.3,36.9 C171.2,38.8 167.2,44.1 166.0,48.0 C164.8,51.9 164.7,55.5 164.8,60.0 C164.9,64.5 166.0,70.6 166.8,74.9 C167.6,79.2 168.7,82.8 169.8,85.8 C170.9,88.8 171.8,90.7 173.5,93.0 C175.2,95.3 177.7,98.3 179.7,99.7 C181.7,101.1 184.7,101.2 185.7,101.5" fill="none" stroke="#2e2e2e" stroke-width="1.5"/>\n<path d="M201.3,38.2 C200.9,39.8 199.5,44.5 198.6,47.7 C197.7,50.9 196.1,53.8 195.9,57.2 C195.7,60.6 197.4,64.5 197.2,68.1 C197.0,71.7 195.4,75.6 194.5,79.0 C193.6,82.4 192.7,85.8 191.8,88.5 C190.9,91.2 190.0,93.1 189.0,95.3 C188.0,97.5 186.2,100.5 185.7,101.5" fill="none" stroke="#2e2e2e" stroke-width="1.5"/>\n<path d="M138.5,47.0 L221.9,45.3 L221.9,51.7 L138.5,53.4Z" fill="#fff" opacity="0.33" filter="url(#soft)"/>\n<path d="M138.5,62.0 L221.9,60.8 L221.9,66.6 L138.5,67.8Z" fill="#fff" opacity="0.33" filter="url(#soft)"/>\n<path d="M138.5,76.4 L221.9,73.8 L221.9,79.4 L138.5,82.0Z" fill="#fff" opacity="0.33" filter="url(#soft)"/>\n<path d="M138.5,90.3 L221.9,86.7 L221.9,91.6 L138.5,95.2Z" fill="#fff" opacity="0.33" filter="url(#soft)"/>\n<line x1="139.0" y1="43.7" x2="222.0" y2="41.8" stroke="#1a1a1a" stroke-width="1.6" stroke-dasharray="1.6,1.6" opacity="0.8"/>\n<line x1="140.6" y1="45.5" x2="222.0" y2="43.6" stroke="#1a1a1a" stroke-width="1.6" stroke-dasharray="1.6,1.6" opacity="0.8"/>\n<line x1="138.0" y1="58.7" x2="222.0" y2="57.3" stroke="#1a1a1a" stroke-width="1.6" stroke-dasharray="1.6,1.6" opacity="0.8"/>\n<line x1="139.6" y1="60.5" x2="222.0" y2="59.1" stroke="#1a1a1a" stroke-width="1.6" stroke-dasharray="1.6,1.6" opacity="0.8"/>\n<line x1="139.0" y1="73.2" x2="222.0" y2="70.2" stroke="#1a1a1a" stroke-width="1.6" stroke-dasharray="1.6,1.6" opacity="0.8"/>\n<line x1="140.6" y1="75.0" x2="222.0" y2="72.0" stroke="#1a1a1a" stroke-width="1.6" stroke-dasharray="1.6,1.6" opacity="0.8"/>\n<line x1="141.9" y1="87.2" x2="220.0" y2="83.0" stroke="#1a1a1a" stroke-width="1.6" stroke-dasharray="1.6,1.6" opacity="0.8"/>\n<line x1="143.5" y1="89.0" x2="220.0" y2="84.8" stroke="#1a1a1a" stroke-width="1.6" stroke-dasharray="1.6,1.6" opacity="0.8"/>\n<line x1="151.9" y1="99.3" x2="211.0" y2="94.1" stroke="#1a1a1a" stroke-width="1.6" stroke-dasharray="1.6,1.6" opacity="0.8"/>\n<line x1="153.5" y1="101.1" x2="211.0" y2="95.9" stroke="#1a1a1a" stroke-width="1.6" stroke-dasharray="1.6,1.6" opacity="0.8"/>\n<path d="M149.9,44.4 C152.3,42.1 155.5,39.9 158.8,38.4 C162.2,36.9 165.9,36.2 170.0,35.4 C174.1,34.6 179.1,33.8 183.6,33.4 C188.1,33.0 193.1,32.6 197.2,32.7 C201.3,32.8 205.1,33.5 208.1,34.1 C211.1,34.7 213.4,35.0 214.9,36.1 C216.4,37.2 216.7,39.0 216.9,40.9 C217.1,42.8 216.6,45.4 216.3,47.7 C216.0,50.0 215.1,51.8 214.9,54.5 C214.7,57.2 214.7,61.3 214.9,64.0 C215.1,66.7 216.2,67.8 216.3,70.8 C216.4,73.8 216.1,78.5 215.6,81.7 C215.1,84.9 214.5,87.4 213.5,89.9 C212.5,92.4 211.3,94.7 209.5,96.7 C207.7,98.7 205.2,100.2 202.7,102.1 C200.2,104.0 197.5,106.4 194.5,108.0 C191.5,109.6 187.6,111.0 184.5,111.6 C181.4,112.2 178.5,112.3 175.7,111.8 C172.9,111.3 170.5,110.0 167.8,108.7 C165.2,107.4 162.1,105.5 159.8,103.7 C157.5,101.9 155.6,100.0 153.9,97.7 C152.2,95.4 151.1,92.8 149.9,89.8 C148.7,86.8 147.8,83.2 146.9,79.9 C146.0,76.6 145.1,73.2 144.5,69.9 C143.9,66.6 143.5,63.0 143.5,60.0 C143.5,57.0 143.4,54.6 144.5,52.0 C145.6,49.4 147.5,46.7 149.9,44.4Z" fill="none" stroke="#222" stroke-width="2.4" opacity="0.55"/>\n</g>\n<path d="M149.9,44.4 C152.3,42.1 155.5,39.9 158.8,38.4 C162.2,36.9 165.9,36.2 170.0,35.4 C174.1,34.6 179.1,33.8 183.6,33.4 C188.1,33.0 193.1,32.6 197.2,32.7 C201.3,32.8 205.1,33.5 208.1,34.1 C211.1,34.7 213.4,35.0 214.9,36.1 C216.4,37.2 216.7,39.0 216.9,40.9 C217.1,42.8 216.6,45.4 216.3,47.7 C216.0,50.0 215.1,51.8 214.9,54.5 C214.7,57.2 214.7,61.3 214.9,64.0 C215.1,66.7 216.2,67.8 216.3,70.8 C216.4,73.8 216.1,78.5 215.6,81.7 C215.1,84.9 214.5,87.4 213.5,89.9 C212.5,92.4 211.3,94.7 209.5,96.7 C207.7,98.7 205.2,100.2 202.7,102.1 C200.2,104.0 197.5,106.4 194.5,108.0 C191.5,109.6 187.6,111.0 184.5,111.6 C181.4,112.2 178.5,112.3 175.7,111.8 C172.9,111.3 170.5,110.0 167.8,108.7 C165.2,107.4 162.1,105.5 159.8,103.7 C157.5,101.9 155.6,100.0 153.9,97.7 C152.2,95.4 151.1,92.8 149.9,89.8 C148.7,86.8 147.8,83.2 146.9,79.9 C146.0,76.6 145.1,73.2 144.5,69.9 C143.9,66.6 143.5,63.0 143.5,60.0 C143.5,57.0 143.4,54.6 144.5,52.0 C145.6,49.4 147.5,46.7 149.9,44.4Z" fill="none" stroke="#333" stroke-width="1.1"/><path d="M266.9,48.5 C269.2,46.5 271.0,44.7 274.9,43.2 C278.8,41.8 285.5,40.6 290.0,39.8 C294.5,39.0 298.1,38.8 302.1,38.6 C306.1,38.4 310.6,38.5 314.2,38.6 C317.8,38.7 321.3,38.8 323.8,39.2 C326.3,39.6 328.2,40.1 329.3,41.0 C330.4,41.9 330.4,42.9 330.5,44.7 C330.6,46.5 330.2,49.5 329.9,51.9 C329.6,54.3 328.8,56.8 328.6,59.2 C328.4,61.6 328.4,64.4 328.6,66.4 C328.8,68.4 329.7,68.8 329.9,71.2 C330.1,73.6 330.3,78.1 329.9,80.9 C329.5,83.7 328.6,85.7 327.4,88.1 C326.2,90.5 324.8,93.0 322.6,95.4 C320.4,97.8 317.2,100.4 314.2,102.6 C311.2,104.8 308.0,106.9 304.5,108.3 C301.0,109.7 296.4,110.9 293.0,110.8 C289.6,110.7 286.7,108.9 284.0,107.8 C281.3,106.7 279.0,105.5 276.7,103.9 C274.4,102.4 272.2,100.6 270.4,98.5 C268.6,96.4 267.1,93.9 265.9,91.2 C264.7,88.5 264.0,85.2 263.2,82.2 C262.4,79.2 261.8,76.1 261.3,73.1 C260.8,70.1 260.4,67.1 260.4,64.1 C260.4,61.1 260.2,57.6 261.3,55.0 C262.4,52.4 264.6,50.5 266.9,48.5Z" fill="none" stroke="#fff" stroke-width="3" opacity="0.6" filter="url(#soft)"/>\n<g clip-path="url(#c1C)">\n<path d="M266.9,48.5 C269.2,46.5 271.0,44.7 274.9,43.2 C278.8,41.8 285.5,40.6 290.0,39.8 C294.5,39.0 298.1,38.8 302.1,38.6 C306.1,38.4 310.6,38.5 314.2,38.6 C317.8,38.7 321.3,38.8 323.8,39.2 C326.3,39.6 328.2,40.1 329.3,41.0 C330.4,41.9 330.4,42.9 330.5,44.7 C330.6,46.5 330.2,49.5 329.9,51.9 C329.6,54.3 328.8,56.8 328.6,59.2 C328.4,61.6 328.4,64.4 328.6,66.4 C328.8,68.4 329.7,68.8 329.9,71.2 C330.1,73.6 330.3,78.1 329.9,80.9 C329.5,83.7 328.6,85.7 327.4,88.1 C326.2,90.5 324.8,93.0 322.6,95.4 C320.4,97.8 317.2,100.4 314.2,102.6 C311.2,104.8 308.0,106.9 304.5,108.3 C301.0,109.7 296.4,110.9 293.0,110.8 C289.6,110.7 286.7,108.9 284.0,107.8 C281.3,106.7 279.0,105.5 276.7,103.9 C274.4,102.4 272.2,100.6 270.4,98.5 C268.6,96.4 267.1,93.9 265.9,91.2 C264.7,88.5 264.0,85.2 263.2,82.2 C262.4,79.2 261.8,76.1 261.3,73.1 C260.8,70.1 260.4,67.1 260.4,64.1 C260.4,61.1 260.2,57.6 261.3,55.0 C262.4,52.4 264.6,50.5 266.9,48.5Z" fill="url(#g1)"/>\n<path d="M292.1,41.3 C286.4,42.6 285.3,46.2 283.5,50.0 C281.7,53.8 281.5,60.2 281.3,64.1 C281.1,67.9 281.4,70.1 282.2,73.1 C282.9,76.1 284.8,79.2 285.8,82.2 C286.9,85.2 287.3,88.5 288.5,91.2 C289.7,93.9 291.2,96.9 293.0,98.5 C294.8,100.1 298.0,100.7 299.5,101.0 C301.0,101.3 301.1,101.7 302.1,100.2 C303.1,98.7 304.5,95.0 305.7,91.8 C306.9,88.6 308.4,84.3 309.3,80.9 C310.2,77.5 311.0,73.8 311.1,71.2 C311.2,68.6 309.6,68.2 309.9,65.2 C310.2,62.2 311.6,56.9 312.9,53.1 C314.2,49.3 321.3,44.2 317.8,42.2 C314.3,40.2 297.8,40.0 292.1,41.3Z" fill="#ececec" opacity="0.6"/>\n<rect x="260.4" y="38.6" width="70.10000000000002" height="72.19999999999999" fill="url(#sh1)"/>\n<rect x="260.4" y="38.6" width="70.10000000000002" height="72.19999999999999" fill="#000" filter="url(#grain)" opacity="0.22"/>\n<path d="M266.9,51.7 C268.2,50.8 271.0,47.9 274.9,46.4 C278.8,45.0 285.5,43.8 290.0,43.0 C294.5,42.2 298.1,42.0 302.1,41.8 C306.1,41.6 310.6,41.7 314.2,41.8 C317.8,41.9 321.3,42.0 323.8,42.4 C326.3,42.8 328.3,42.1 329.3,44.2 C330.3,46.3 329.7,54.5 329.9,55.1 C330.1,55.7 330.4,49.1 330.5,47.9" fill="none" stroke="#f4f4f4" stroke-width="2.2" opacity="0.7"/>\n<path d="M266.9,48.5 C268.2,47.6 271.0,44.7 274.9,43.2 C278.8,41.8 285.5,40.6 290.0,39.8 C294.5,39.0 298.1,38.8 302.1,38.6 C306.1,38.4 310.6,38.5 314.2,38.6 C317.8,38.7 321.3,38.8 323.8,39.2 C326.3,39.6 328.3,38.9 329.3,41.0 C330.3,43.1 329.7,51.3 329.9,51.9 C330.1,52.5 330.4,45.9 330.5,44.7" fill="none" stroke="#2a2a2a" stroke-width="3" opacity="0.55"/>\n<path d="M266.9,53.5 C268.2,52.6 271.0,49.7 274.9,48.2 C278.8,46.8 285.5,45.6 290.0,44.8 C294.5,44.0 298.1,43.8 302.1,43.6 C306.1,43.4 310.6,43.5 314.2,43.6 C317.8,43.7 321.3,43.8 323.8,44.2 C326.3,44.6 328.3,43.9 329.3,46.0 C330.3,48.1 329.7,56.3 329.9,56.9 C330.1,57.5 330.4,50.9 330.5,49.7" fill="none" stroke="#444" stroke-width="1" opacity="0.6"/>\n<path d="M292.1,41.3 C290.7,42.8 285.3,46.2 283.5,50.0 C281.7,53.8 281.5,60.2 281.3,64.1 C281.1,67.9 281.4,70.1 282.2,73.1 C282.9,76.1 284.8,79.2 285.8,82.2 C286.9,85.2 287.3,88.5 288.5,91.2 C289.7,93.9 291.2,96.9 293.0,98.5 C294.8,100.1 298.4,100.6 299.5,101.0" fill="none" stroke="#2e2e2e" stroke-width="1.5"/>\n<path d="M317.8,42.2 C317.0,44.0 314.2,49.3 312.9,53.1 C311.6,56.9 310.2,62.2 309.9,65.2 C309.6,68.2 311.2,68.6 311.1,71.2 C311.0,73.8 310.2,77.5 309.3,80.9 C308.4,84.3 306.9,88.6 305.7,91.8 C304.5,95.0 303.1,98.7 302.1,100.2 C301.1,101.7 299.9,100.9 299.5,101.0" fill="none" stroke="#2e2e2e" stroke-width="1.5"/>\n<path d="M255.4,51.5 L335.5,50.0 L335.5,56.0 L255.4,57.5Z" fill="#fff" opacity="0.33" filter="url(#soft)"/>\n<path d="M255.4,65.7 L335.5,64.5 L335.5,69.7 L255.4,70.9Z" fill="#fff" opacity="0.33" filter="url(#soft)"/>\n<path d="M255.4,78.3 L335.5,76.5 L335.5,81.9 L255.4,83.7Z" fill="#fff" opacity="0.33" filter="url(#soft)"/>\n<path d="M255.4,91.9 L335.5,88.5 L335.5,93.5 L255.4,96.9Z" fill="#fff" opacity="0.33" filter="url(#soft)"/>\n<line x1="259.0" y1="48.2" x2="336.0" y2="46.5" stroke="#1a1a1a" stroke-width="1.6" stroke-dasharray="1.6,1.6" opacity="0.8"/>\n<line x1="260.6" y1="50.0" x2="336.0" y2="48.3" stroke="#1a1a1a" stroke-width="1.6" stroke-dasharray="1.6,1.6" opacity="0.8"/>\n<line x1="254.4" y1="62.4" x2="336.0" y2="61.0" stroke="#1a1a1a" stroke-width="1.6" stroke-dasharray="1.6,1.6" opacity="0.8"/>\n<line x1="256.0" y1="64.2" x2="336.0" y2="62.8" stroke="#1a1a1a" stroke-width="1.6" stroke-dasharray="1.6,1.6" opacity="0.8"/>\n<line x1="257.2" y1="75.1" x2="336.0" y2="72.9" stroke="#1a1a1a" stroke-width="1.6" stroke-dasharray="1.6,1.6" opacity="0.8"/>\n<line x1="258.8" y1="76.9" x2="336.0" y2="74.7" stroke="#1a1a1a" stroke-width="1.6" stroke-dasharray="1.6,1.6" opacity="0.8"/>\n<line x1="259.9" y1="88.8" x2="334.0" y2="84.8" stroke="#1a1a1a" stroke-width="1.6" stroke-dasharray="1.6,1.6" opacity="0.8"/>\n<line x1="261.5" y1="90.6" x2="334.0" y2="86.6" stroke="#1a1a1a" stroke-width="1.6" stroke-dasharray="1.6,1.6" opacity="0.8"/>\n<line x1="267.1" y1="100.8" x2="324.0" y2="96.4" stroke="#1a1a1a" stroke-width="1.6" stroke-dasharray="1.6,1.6" opacity="0.8"/>\n<line x1="268.7" y1="102.6" x2="324.0" y2="98.2" stroke="#1a1a1a" stroke-width="1.6" stroke-dasharray="1.6,1.6" opacity="0.8"/>\n<path d="M266.9,48.5 C269.2,46.5 271.0,44.7 274.9,43.2 C278.8,41.8 285.5,40.6 290.0,39.8 C294.5,39.0 298.1,38.8 302.1,38.6 C306.1,38.4 310.6,38.5 314.2,38.6 C317.8,38.7 321.3,38.8 323.8,39.2 C326.3,39.6 328.2,40.1 329.3,41.0 C330.4,41.9 330.4,42.9 330.5,44.7 C330.6,46.5 330.2,49.5 329.9,51.9 C329.6,54.3 328.8,56.8 328.6,59.2 C328.4,61.6 328.4,64.4 328.6,66.4 C328.8,68.4 329.7,68.8 329.9,71.2 C330.1,73.6 330.3,78.1 329.9,80.9 C329.5,83.7 328.6,85.7 327.4,88.1 C326.2,90.5 324.8,93.0 322.6,95.4 C320.4,97.8 317.2,100.4 314.2,102.6 C311.2,104.8 308.0,106.9 304.5,108.3 C301.0,109.7 296.4,110.9 293.0,110.8 C289.6,110.7 286.7,108.9 284.0,107.8 C281.3,106.7 279.0,105.5 276.7,103.9 C274.4,102.4 272.2,100.6 270.4,98.5 C268.6,96.4 267.1,93.9 265.9,91.2 C264.7,88.5 264.0,85.2 263.2,82.2 C262.4,79.2 261.8,76.1 261.3,73.1 C260.8,70.1 260.4,67.1 260.4,64.1 C260.4,61.1 260.2,57.6 261.3,55.0 C262.4,52.4 264.6,50.5 266.9,48.5Z" fill="none" stroke="#222" stroke-width="2.4" opacity="0.55"/>\n</g>\n<path d="M266.9,48.5 C269.2,46.5 271.0,44.7 274.9,43.2 C278.8,41.8 285.5,40.6 290.0,39.8 C294.5,39.0 298.1,38.8 302.1,38.6 C306.1,38.4 310.6,38.5 314.2,38.6 C317.8,38.7 321.3,38.8 323.8,39.2 C326.3,39.6 328.2,40.1 329.3,41.0 C330.4,41.9 330.4,42.9 330.5,44.7 C330.6,46.5 330.2,49.5 329.9,51.9 C329.6,54.3 328.8,56.8 328.6,59.2 C328.4,61.6 328.4,64.4 328.6,66.4 C328.8,68.4 329.7,68.8 329.9,71.2 C330.1,73.6 330.3,78.1 329.9,80.9 C329.5,83.7 328.6,85.7 327.4,88.1 C326.2,90.5 324.8,93.0 322.6,95.4 C320.4,97.8 317.2,100.4 314.2,102.6 C311.2,104.8 308.0,106.9 304.5,108.3 C301.0,109.7 296.4,110.9 293.0,110.8 C289.6,110.7 286.7,108.9 284.0,107.8 C281.3,106.7 279.0,105.5 276.7,103.9 C274.4,102.4 272.2,100.6 270.4,98.5 C268.6,96.4 267.1,93.9 265.9,91.2 C264.7,88.5 264.0,85.2 263.2,82.2 C262.4,79.2 261.8,76.1 261.3,73.1 C260.8,70.1 260.4,67.1 260.4,64.1 C260.4,61.1 260.2,57.6 261.3,55.0 C262.4,52.4 264.6,50.5 266.9,48.5Z" fill="none" stroke="#333" stroke-width="1.1"/><path d="M380.9,35.1 C383.0,32.8 384.6,31.3 388.6,29.2 C392.6,27.1 399.8,24.1 405.0,22.6 C410.2,21.1 415.1,20.8 420.1,20.3 C425.1,19.8 430.9,19.5 435.2,19.5 C439.5,19.5 443.1,19.7 445.8,20.3 C448.5,20.9 450.1,21.9 451.1,23.3 C452.1,24.7 451.9,26.5 451.8,28.6 C451.7,30.7 450.9,33.3 450.3,36.1 C449.7,38.9 448.6,41.9 448.1,45.2 C447.6,48.5 447.3,52.5 447.3,55.8 C447.3,59.1 448.1,61.5 448.1,64.8 C448.1,68.1 447.8,72.1 447.3,75.4 C446.8,78.7 446.0,81.5 445.0,84.5 C444.0,87.5 442.9,90.7 441.3,93.5 C439.7,96.3 437.7,98.8 435.2,101.1 C432.7,103.4 429.2,105.3 426.1,107.1 C423.0,108.9 420.3,111.3 416.8,112.0 C413.3,112.7 408.7,112.0 405.3,111.0 C401.9,110.0 399.1,107.7 396.3,105.8 C393.5,103.9 391.0,101.8 388.6,99.4 C386.2,97.1 384.0,94.3 382.1,91.7 C380.2,89.1 378.3,86.8 377.0,84.0 C375.7,81.2 375.0,78.7 374.4,75.0 C373.8,71.3 373.3,66.2 373.1,62.1 C372.9,58.0 372.7,53.8 373.1,50.6 C373.5,47.4 374.4,45.5 375.7,42.9 C377.0,40.3 378.8,37.4 380.9,35.1Z" fill="none" stroke="#fff" stroke-width="3" opacity="0.6" filter="url(#soft)"/>\n<g clip-path="url(#c1D)">\n<path d="M380.9,35.1 C383.0,32.8 384.6,31.3 388.6,29.2 C392.6,27.1 399.8,24.1 405.0,22.6 C410.2,21.1 415.1,20.8 420.1,20.3 C425.1,19.8 430.9,19.5 435.2,19.5 C439.5,19.5 443.1,19.7 445.8,20.3 C448.5,20.9 450.1,21.9 451.1,23.3 C452.1,24.7 451.9,26.5 451.8,28.6 C451.7,30.7 450.9,33.3 450.3,36.1 C449.7,38.9 448.6,41.9 448.1,45.2 C447.6,48.5 447.3,52.5 447.3,55.8 C447.3,59.1 448.1,61.5 448.1,64.8 C448.1,68.1 447.8,72.1 447.3,75.4 C446.8,78.7 446.0,81.5 445.0,84.5 C444.0,87.5 442.9,90.7 441.3,93.5 C439.7,96.3 437.7,98.8 435.2,101.1 C432.7,103.4 429.2,105.3 426.1,107.1 C423.0,108.9 420.3,111.3 416.8,112.0 C413.3,112.7 408.7,112.0 405.3,111.0 C401.9,110.0 399.1,107.7 396.3,105.8 C393.5,103.9 391.0,101.8 388.6,99.4 C386.2,97.1 384.0,94.3 382.1,91.7 C380.2,89.1 378.3,86.8 377.0,84.0 C375.7,81.2 375.0,78.7 374.4,75.0 C373.8,71.3 373.3,66.2 373.1,62.1 C372.9,58.0 372.7,53.8 373.1,50.6 C373.5,47.4 374.4,45.5 375.7,42.9 C377.0,40.3 378.8,37.4 380.9,35.1Z" fill="url(#g1)"/>\n<path d="M397.6,37.7 C390.3,41.2 394.0,45.2 393.1,49.3 C392.2,53.4 392.1,58.2 392.4,62.1 C392.7,66.0 393.9,68.8 395.0,72.4 C396.1,76.1 397.1,80.3 398.8,84.0 C400.5,87.7 402.7,91.6 405.3,94.3 C407.9,97.0 411.6,98.8 414.3,100.0 C417.0,101.2 420.4,102.1 421.6,101.5 C422.8,100.9 421.4,99.2 421.6,96.6 C421.9,94.0 422.4,89.3 423.1,86.0 C423.9,82.7 425.2,80.4 426.1,76.9 C427.0,73.4 427.9,68.1 428.4,64.8 C428.9,61.5 428.6,60.8 429.2,57.3 C429.8,53.8 430.9,48.5 432.2,43.7 C433.4,38.9 442.5,29.6 436.7,28.6 C430.9,27.6 404.9,34.2 397.6,37.7Z" fill="#ececec" opacity="0.6"/>\n<rect x="373.1" y="19.5" width="78.69999999999999" height="92.5" fill="url(#sh1)"/>\n<rect x="373.1" y="19.5" width="78.69999999999999" height="92.5" fill="#000" filter="url(#grain)" opacity="0.22"/>\n<path d="M380.9,38.3 C382.2,37.3 384.6,34.5 388.6,32.4 C392.6,30.3 399.8,27.3 405.0,25.8 C410.2,24.3 415.1,24.0 420.1,23.5 C425.1,23.0 430.9,22.7 435.2,22.7 C439.5,22.7 443.3,20.7 445.8,23.5 C448.3,26.3 449.4,38.8 450.3,39.3 C451.2,39.8 450.9,27.8 451.1,26.5 C451.4,25.2 451.7,30.9 451.8,31.8" fill="none" stroke="#f4f4f4" stroke-width="2.2" opacity="0.7"/>\n<path d="M380.9,35.1 C382.2,34.1 384.6,31.3 388.6,29.2 C392.6,27.1 399.8,24.1 405.0,22.6 C410.2,21.1 415.1,20.8 420.1,20.3 C425.1,19.8 430.9,19.5 435.2,19.5 C439.5,19.5 443.3,17.5 445.8,20.3 C448.3,23.1 449.4,35.6 450.3,36.1 C451.2,36.6 450.9,24.6 451.1,23.3 C451.4,22.1 451.7,27.7 451.8,28.6" fill="none" stroke="#2a2a2a" stroke-width="3" opacity="0.55"/>\n<path d="M380.9,40.1 C382.2,39.1 384.6,36.3 388.6,34.2 C392.6,32.1 399.8,29.1 405.0,27.6 C410.2,26.1 415.1,25.8 420.1,25.3 C425.1,24.8 430.9,24.5 435.2,24.5 C439.5,24.5 443.3,22.5 445.8,25.3 C448.3,28.1 449.4,40.6 450.3,41.1 C451.2,41.6 450.9,29.6 451.1,28.3 C451.4,27.1 451.7,32.7 451.8,33.6" fill="none" stroke="#444" stroke-width="1" opacity="0.6"/>\n<path d="M397.6,37.7 C396.9,39.6 394.0,45.2 393.1,49.3 C392.2,53.4 392.1,58.2 392.4,62.1 C392.7,66.0 393.9,68.8 395.0,72.4 C396.1,76.1 397.1,80.3 398.8,84.0 C400.5,87.7 402.7,91.6 405.3,94.3 C407.9,97.0 411.6,98.8 414.3,100.0 C417.0,101.2 420.4,101.2 421.6,101.5" fill="none" stroke="#2e2e2e" stroke-width="1.5"/>\n<path d="M436.7,28.6 C435.9,31.1 433.4,38.9 432.2,43.7 C430.9,48.5 429.8,53.8 429.2,57.3 C428.6,60.8 428.9,61.5 428.4,64.8 C427.9,68.1 427.0,73.4 426.1,76.9 C425.2,80.4 423.9,82.7 423.1,86.0 C422.4,89.3 421.9,94.0 421.6,96.6 C421.4,99.2 421.6,100.7 421.6,101.5" fill="none" stroke="#2e2e2e" stroke-width="1.5"/>\n<path d="M368.1,40.5 L456.8,36.5 L456.8,42.7 L368.1,46.7Z" fill="#fff" opacity="0.33" filter="url(#soft)"/>\n<path d="M368.1,54.5 L456.8,52.0 L456.8,58.1 L368.1,60.6Z" fill="#fff" opacity="0.33" filter="url(#soft)"/>\n<path d="M368.1,69.0 L456.8,66.5 L456.8,72.9 L368.1,75.4Z" fill="#fff" opacity="0.33" filter="url(#soft)"/>\n<path d="M368.1,84.0 L456.8,82.0 L456.8,88.7 L368.1,90.7Z" fill="#fff" opacity="0.33" filter="url(#soft)"/>\n<line x1="372.0" y1="37.4" x2="457.0" y2="32.8" stroke="#1a1a1a" stroke-width="1.6" stroke-dasharray="1.6,1.6" opacity="0.8"/>\n<line x1="373.6" y1="39.2" x2="457.0" y2="34.6" stroke="#1a1a1a" stroke-width="1.6" stroke-dasharray="1.6,1.6" opacity="0.8"/>\n<line x1="367.0" y1="51.3" x2="455.0" y2="48.4" stroke="#1a1a1a" stroke-width="1.6" stroke-dasharray="1.6,1.6" opacity="0.8"/>\n<line x1="368.6" y1="53.1" x2="455.0" y2="50.2" stroke="#1a1a1a" stroke-width="1.6" stroke-dasharray="1.6,1.6" opacity="0.8"/>\n<line x1="367.0" y1="65.8" x2="454.0" y2="62.9" stroke="#1a1a1a" stroke-width="1.6" stroke-dasharray="1.6,1.6" opacity="0.8"/>\n<line x1="368.6" y1="67.6" x2="454.0" y2="64.7" stroke="#1a1a1a" stroke-width="1.6" stroke-dasharray="1.6,1.6" opacity="0.8"/>\n<line x1="368.0" y1="80.8" x2="453.0" y2="78.4" stroke="#1a1a1a" stroke-width="1.6" stroke-dasharray="1.6,1.6" opacity="0.8"/>\n<line x1="369.6" y1="82.6" x2="453.0" y2="80.2" stroke="#1a1a1a" stroke-width="1.6" stroke-dasharray="1.6,1.6" opacity="0.8"/>\n<line x1="379.0" y1="96.8" x2="448.0" y2="94.4" stroke="#1a1a1a" stroke-width="1.6" stroke-dasharray="1.6,1.6" opacity="0.8"/>\n<line x1="380.6" y1="98.6" x2="448.0" y2="96.2" stroke="#1a1a1a" stroke-width="1.6" stroke-dasharray="1.6,1.6" opacity="0.8"/>\n<path d="M380.9,35.1 C383.0,32.8 384.6,31.3 388.6,29.2 C392.6,27.1 399.8,24.1 405.0,22.6 C410.2,21.1 415.1,20.8 420.1,20.3 C425.1,19.8 430.9,19.5 435.2,19.5 C439.5,19.5 443.1,19.7 445.8,20.3 C448.5,20.9 450.1,21.9 451.1,23.3 C452.1,24.7 451.9,26.5 451.8,28.6 C451.7,30.7 450.9,33.3 450.3,36.1 C449.7,38.9 448.6,41.9 448.1,45.2 C447.6,48.5 447.3,52.5 447.3,55.8 C447.3,59.1 448.1,61.5 448.1,64.8 C448.1,68.1 447.8,72.1 447.3,75.4 C446.8,78.7 446.0,81.5 445.0,84.5 C444.0,87.5 442.9,90.7 441.3,93.5 C439.7,96.3 437.7,98.8 435.2,101.1 C432.7,103.4 429.2,105.3 426.1,107.1 C423.0,108.9 420.3,111.3 416.8,112.0 C413.3,112.7 408.7,112.0 405.3,111.0 C401.9,110.0 399.1,107.7 396.3,105.8 C393.5,103.9 391.0,101.8 388.6,99.4 C386.2,97.1 384.0,94.3 382.1,91.7 C380.2,89.1 378.3,86.8 377.0,84.0 C375.7,81.2 375.0,78.7 374.4,75.0 C373.8,71.3 373.3,66.2 373.1,62.1 C372.9,58.0 372.7,53.8 373.1,50.6 C373.5,47.4 374.4,45.5 375.7,42.9 C377.0,40.3 378.8,37.4 380.9,35.1Z" fill="none" stroke="#222" stroke-width="2.4" opacity="0.55"/>\n</g>\n<path d="M380.9,35.1 C383.0,32.8 384.6,31.3 388.6,29.2 C392.6,27.1 399.8,24.1 405.0,22.6 C410.2,21.1 415.1,20.8 420.1,20.3 C425.1,19.8 430.9,19.5 435.2,19.5 C439.5,19.5 443.1,19.7 445.8,20.3 C448.5,20.9 450.1,21.9 451.1,23.3 C452.1,24.7 451.9,26.5 451.8,28.6 C451.7,30.7 450.9,33.3 450.3,36.1 C449.7,38.9 448.6,41.9 448.1,45.2 C447.6,48.5 447.3,52.5 447.3,55.8 C447.3,59.1 448.1,61.5 448.1,64.8 C448.1,68.1 447.8,72.1 447.3,75.4 C446.8,78.7 446.0,81.5 445.0,84.5 C444.0,87.5 442.9,90.7 441.3,93.5 C439.7,96.3 437.7,98.8 435.2,101.1 C432.7,103.4 429.2,105.3 426.1,107.1 C423.0,108.9 420.3,111.3 416.8,112.0 C413.3,112.7 408.7,112.0 405.3,111.0 C401.9,110.0 399.1,107.7 396.3,105.8 C393.5,103.9 391.0,101.8 388.6,99.4 C386.2,97.1 384.0,94.3 382.1,91.7 C380.2,89.1 378.3,86.8 377.0,84.0 C375.7,81.2 375.0,78.7 374.4,75.0 C373.8,71.3 373.3,66.2 373.1,62.1 C372.9,58.0 372.7,53.8 373.1,50.6 C373.5,47.4 374.4,45.5 375.7,42.9 C377.0,40.3 378.8,37.4 380.9,35.1Z" fill="none" stroke="#333" stroke-width="1.1"/><path d="M495.9,32.9 C498.2,30.8 500.8,28.9 504.6,27.2 C508.4,25.5 515.5,23.8 518.9,22.9 C522.3,22.0 521.5,22.2 525.0,21.8 C528.5,21.4 535.1,20.6 540.1,20.3 C545.1,20.1 551.2,20.1 555.2,20.3 C559.2,20.6 561.9,20.9 564.3,21.8 C566.7,22.7 568.9,24.0 569.6,25.6 C570.4,27.2 569.4,29.3 568.8,31.6 C568.2,33.9 566.7,36.4 565.8,39.2 C564.9,42.0 564.1,44.9 563.5,48.2 C562.9,51.5 562.1,55.5 562.0,58.8 C561.9,62.1 562.8,64.6 562.8,67.9 C562.8,71.2 562.4,75.1 562.0,78.4 C561.6,81.7 561.4,84.5 560.5,87.5 C559.6,90.5 558.3,93.8 556.7,96.6 C555.1,99.4 553.2,102.0 550.7,104.1 C548.2,106.2 544.4,107.9 541.6,109.4 C538.8,110.9 536.6,112.5 534.0,113.0 C531.4,113.5 529.1,113.4 526.1,112.5 C523.1,111.6 519.1,109.4 516.0,107.6 C512.9,105.8 510.0,104.3 507.4,101.9 C504.8,99.5 502.3,96.4 500.2,93.3 C498.1,90.2 496.1,86.8 494.5,83.2 C492.9,79.6 491.9,75.5 490.9,71.7 C489.9,67.9 489.1,64.0 488.7,60.2 C488.3,56.4 488.3,52.1 488.7,48.7 C489.1,45.4 489.7,42.7 490.9,40.1 C492.1,37.5 493.6,35.0 495.9,32.9Z" fill="none" stroke="#fff" stroke-width="3" opacity="0.6" filter="url(#soft)"/>\n<g clip-path="url(#c1E)">\n<path d="M495.9,32.9 C498.2,30.8 500.8,28.9 504.6,27.2 C508.4,25.5 515.5,23.8 518.9,22.9 C522.3,22.0 521.5,22.2 525.0,21.8 C528.5,21.4 535.1,20.6 540.1,20.3 C545.1,20.1 551.2,20.1 555.2,20.3 C559.2,20.6 561.9,20.9 564.3,21.8 C566.7,22.7 568.9,24.0 569.6,25.6 C570.4,27.2 569.4,29.3 568.8,31.6 C568.2,33.9 566.7,36.4 565.8,39.2 C564.9,42.0 564.1,44.9 563.5,48.2 C562.9,51.5 562.1,55.5 562.0,58.8 C561.9,62.1 562.8,64.6 562.8,67.9 C562.8,71.2 562.4,75.1 562.0,78.4 C561.6,81.7 561.4,84.5 560.5,87.5 C559.6,90.5 558.3,93.8 556.7,96.6 C555.1,99.4 553.2,102.0 550.7,104.1 C548.2,106.2 544.4,107.9 541.6,109.4 C538.8,110.9 536.6,112.5 534.0,113.0 C531.4,113.5 529.1,113.4 526.1,112.5 C523.1,111.6 519.1,109.4 516.0,107.6 C512.9,105.8 510.0,104.3 507.4,101.9 C504.8,99.5 502.3,96.4 500.2,93.3 C498.1,90.2 496.1,86.8 494.5,83.2 C492.9,79.6 491.9,75.5 490.9,71.7 C489.9,67.9 489.1,64.0 488.7,60.2 C488.3,56.4 488.3,52.1 488.7,48.7 C489.1,45.4 489.7,42.7 490.9,40.1 C492.1,37.5 493.6,35.0 495.9,32.9Z" fill="url(#g1)"/>\n<path d="M508.9,31.5 C500.9,33.9 506.5,38.9 506.0,43.0 C505.5,47.1 505.5,51.4 506.0,55.9 C506.5,60.4 507.7,66.0 508.9,70.3 C510.1,74.6 511.3,78.2 513.2,81.8 C515.1,85.4 517.8,89.2 520.4,91.8 C523.0,94.4 526.1,96.1 529.0,97.6 C531.9,99.0 536.3,100.7 538.0,100.5 C539.7,100.3 538.8,99.3 539.4,96.6 C540.0,93.9 540.7,88.0 541.6,84.5 C542.5,81.0 543.6,78.7 544.6,75.4 C545.6,72.1 547.2,68.6 547.7,64.8 C548.2,61.0 547.2,56.8 547.7,52.8 C548.2,48.8 549.7,44.7 550.7,40.7 C551.7,36.7 560.7,30.1 553.7,28.6 C546.7,27.1 516.9,29.1 508.9,31.5Z" fill="#ececec" opacity="0.6"/>\n<rect x="488.7" y="20.3" width="80.90000000000003" height="92.7" fill="url(#sh1)"/>\n<rect x="488.7" y="20.3" width="80.90000000000003" height="92.7" fill="#000" filter="url(#grain)" opacity="0.22"/>\n<path d="M490.9,43.3 C491.7,42.1 493.6,38.2 495.9,36.1 C498.2,34.0 500.8,32.1 504.6,30.4 C508.4,28.7 515.5,27.0 518.9,26.1 C522.3,25.2 521.5,25.4 525.0,25.0 C528.5,24.6 535.1,23.8 540.1,23.5 C545.1,23.2 551.2,23.2 555.2,23.5 C559.2,23.8 562.5,21.8 564.3,25.0 C566.1,28.2 565.0,40.8 565.8,42.4 C566.5,44.0 568.2,37.1 568.8,34.8 C569.4,32.5 569.5,29.8 569.6,28.8" fill="none" stroke="#f4f4f4" stroke-width="2.2" opacity="0.7"/>\n<path d="M490.9,40.1 C491.7,38.9 493.6,35.0 495.9,32.9 C498.2,30.8 500.8,28.9 504.6,27.2 C508.4,25.5 515.5,23.8 518.9,22.9 C522.3,22.0 521.5,22.2 525.0,21.8 C528.5,21.4 535.1,20.6 540.1,20.3 C545.1,20.1 551.2,20.1 555.2,20.3 C559.2,20.6 562.5,18.6 564.3,21.8 C566.1,25.0 565.0,37.6 565.8,39.2 C566.5,40.8 568.2,33.9 568.8,31.6 C569.4,29.3 569.5,26.6 569.6,25.6" fill="none" stroke="#2a2a2a" stroke-width="3" opacity="0.55"/>\n<path d="M490.9,45.1 C491.7,43.9 493.6,40.0 495.9,37.9 C498.2,35.8 500.8,33.9 504.6,32.2 C508.4,30.5 515.5,28.8 518.9,27.9 C522.3,27.0 521.5,27.2 525.0,26.8 C528.5,26.4 535.1,25.6 540.1,25.3 C545.1,25.1 551.2,25.1 555.2,25.3 C559.2,25.6 562.5,23.6 564.3,26.8 C566.1,30.0 565.0,42.6 565.8,44.2 C566.5,45.8 568.2,38.9 568.8,36.6 C569.4,34.3 569.5,31.6 569.6,30.6" fill="none" stroke="#444" stroke-width="1" opacity="0.6"/>\n<path d="M508.9,31.5 C508.4,33.4 506.5,38.9 506.0,43.0 C505.5,47.1 505.5,51.4 506.0,55.9 C506.5,60.4 507.7,66.0 508.9,70.3 C510.1,74.6 511.3,78.2 513.2,81.8 C515.1,85.4 517.8,89.2 520.4,91.8 C523.0,94.4 526.1,96.1 529.0,97.6 C531.9,99.0 536.5,100.0 538.0,100.5" fill="none" stroke="#2e2e2e" stroke-width="1.5"/>\n<path d="M553.7,28.6 C553.2,30.6 551.7,36.7 550.7,40.7 C549.7,44.7 548.2,48.8 547.7,52.8 C547.2,56.8 548.2,61.0 547.7,64.8 C547.2,68.6 545.6,72.1 544.6,75.4 C543.6,78.7 542.5,81.0 541.6,84.5 C540.7,88.0 540.0,93.9 539.4,96.6 C538.8,99.3 538.2,99.8 538.0,100.5" fill="none" stroke="#2e2e2e" stroke-width="1.5"/>\n<path d="M483.7,36.0 L574.6,33.0 L574.6,36.7 L483.7,39.7Z" fill="#fff" opacity="0.33" filter="url(#soft)"/>\n<path d="M483.7,44.1 L574.6,42.5 L574.6,47.4 L483.7,49.0Z" fill="#fff" opacity="0.33" filter="url(#soft)"/>\n<path d="M483.7,57.0 L574.6,53.0 L574.6,59.3 L483.7,63.3Z" fill="#fff" opacity="0.33" filter="url(#soft)"/>\n<path d="M483.7,71.4 L574.6,68.7 L574.6,75.2 L483.7,77.9Z" fill="#fff" opacity="0.33" filter="url(#soft)"/>\n<path d="M483.7,87.2 L574.6,83.8 L574.6,89.7 L483.7,93.1Z" fill="#fff" opacity="0.33" filter="url(#soft)"/>\n<line x1="491.0" y1="32.9" x2="574.0" y2="29.3" stroke="#1a1a1a" stroke-width="1.6" stroke-dasharray="1.6,1.6" opacity="0.8"/>\n<line x1="492.6" y1="34.7" x2="574.0" y2="31.1" stroke="#1a1a1a" stroke-width="1.6" stroke-dasharray="1.6,1.6" opacity="0.8"/>\n<line x1="491.4" y1="40.8" x2="572.0" y2="39.0" stroke="#1a1a1a" stroke-width="1.6" stroke-dasharray="1.6,1.6" opacity="0.8"/>\n<line x1="493.0" y1="42.6" x2="572.0" y2="40.8" stroke="#1a1a1a" stroke-width="1.6" stroke-dasharray="1.6,1.6" opacity="0.8"/>\n<line x1="484.2" y1="53.9" x2="570.0" y2="49.3" stroke="#1a1a1a" stroke-width="1.6" stroke-dasharray="1.6,1.6" opacity="0.8"/>\n<line x1="485.8" y1="55.7" x2="570.0" y2="51.1" stroke="#1a1a1a" stroke-width="1.6" stroke-dasharray="1.6,1.6" opacity="0.8"/>\n<line x1="485.6" y1="68.2" x2="569.0" y2="65.1" stroke="#1a1a1a" stroke-width="1.6" stroke-dasharray="1.6,1.6" opacity="0.8"/>\n<line x1="487.2" y1="70.0" x2="569.0" y2="66.9" stroke="#1a1a1a" stroke-width="1.6" stroke-dasharray="1.6,1.6" opacity="0.8"/>\n<line x1="488.5" y1="84.1" x2="567.0" y2="80.1" stroke="#1a1a1a" stroke-width="1.6" stroke-dasharray="1.6,1.6" opacity="0.8"/>\n<line x1="490.1" y1="85.9" x2="567.0" y2="81.9" stroke="#1a1a1a" stroke-width="1.6" stroke-dasharray="1.6,1.6" opacity="0.8"/>\n<line x1="505.7" y1="96.9" x2="562.0" y2="95.2" stroke="#1a1a1a" stroke-width="1.6" stroke-dasharray="1.6,1.6" opacity="0.8"/>\n<line x1="507.3" y1="98.7" x2="562.0" y2="97.0" stroke="#1a1a1a" stroke-width="1.6" stroke-dasharray="1.6,1.6" opacity="0.8"/>\n<path d="M495.9,32.9 C498.2,30.8 500.8,28.9 504.6,27.2 C508.4,25.5 515.5,23.8 518.9,22.9 C522.3,22.0 521.5,22.2 525.0,21.8 C528.5,21.4 535.1,20.6 540.1,20.3 C545.1,20.1 551.2,20.1 555.2,20.3 C559.2,20.6 561.9,20.9 564.3,21.8 C566.7,22.7 568.9,24.0 569.6,25.6 C570.4,27.2 569.4,29.3 568.8,31.6 C568.2,33.9 566.7,36.4 565.8,39.2 C564.9,42.0 564.1,44.9 563.5,48.2 C562.9,51.5 562.1,55.5 562.0,58.8 C561.9,62.1 562.8,64.6 562.8,67.9 C562.8,71.2 562.4,75.1 562.0,78.4 C561.6,81.7 561.4,84.5 560.5,87.5 C559.6,90.5 558.3,93.8 556.7,96.6 C555.1,99.4 553.2,102.0 550.7,104.1 C548.2,106.2 544.4,107.9 541.6,109.4 C538.8,110.9 536.6,112.5 534.0,113.0 C531.4,113.5 529.1,113.4 526.1,112.5 C523.1,111.6 519.1,109.4 516.0,107.6 C512.9,105.8 510.0,104.3 507.4,101.9 C504.8,99.5 502.3,96.4 500.2,93.3 C498.1,90.2 496.1,86.8 494.5,83.2 C492.9,79.6 491.9,75.5 490.9,71.7 C489.9,67.9 489.1,64.0 488.7,60.2 C488.3,56.4 488.3,52.1 488.7,48.7 C489.1,45.4 489.7,42.7 490.9,40.1 C492.1,37.5 493.6,35.0 495.9,32.9Z" fill="none" stroke="#222" stroke-width="2.4" opacity="0.55"/>\n</g>\n<path d="M495.9,32.9 C498.2,30.8 500.8,28.9 504.6,27.2 C508.4,25.5 515.5,23.8 518.9,22.9 C522.3,22.0 521.5,22.2 525.0,21.8 C528.5,21.4 535.1,20.6 540.1,20.3 C545.1,20.1 551.2,20.1 555.2,20.3 C559.2,20.6 561.9,20.9 564.3,21.8 C566.7,22.7 568.9,24.0 569.6,25.6 C570.4,27.2 569.4,29.3 568.8,31.6 C568.2,33.9 566.7,36.4 565.8,39.2 C564.9,42.0 564.1,44.9 563.5,48.2 C562.9,51.5 562.1,55.5 562.0,58.8 C561.9,62.1 562.8,64.6 562.8,67.9 C562.8,71.2 562.4,75.1 562.0,78.4 C561.6,81.7 561.4,84.5 560.5,87.5 C559.6,90.5 558.3,93.8 556.7,96.6 C555.1,99.4 553.2,102.0 550.7,104.1 C548.2,106.2 544.4,107.9 541.6,109.4 C538.8,110.9 536.6,112.5 534.0,113.0 C531.4,113.5 529.1,113.4 526.1,112.5 C523.1,111.6 519.1,109.4 516.0,107.6 C512.9,105.8 510.0,104.3 507.4,101.9 C504.8,99.5 502.3,96.4 500.2,93.3 C498.1,90.2 496.1,86.8 494.5,83.2 C492.9,79.6 491.9,75.5 490.9,71.7 C489.9,67.9 489.1,64.0 488.7,60.2 C488.3,56.4 488.3,52.1 488.7,48.7 C489.1,45.4 489.7,42.7 490.9,40.1 C492.1,37.5 493.6,35.0 495.9,32.9Z" fill="none" stroke="#333" stroke-width="1.1"/><path d="M17.3,160.4 C17.9,159.0 18.3,159.2 19.9,158.3 C21.5,157.5 24.4,156.3 26.9,155.3 C29.4,154.3 32.1,153.2 34.8,152.3 C37.4,151.4 40.1,150.7 42.8,149.8 C45.4,148.9 48.2,147.7 50.7,146.8 C53.2,145.9 55.6,145.3 57.7,144.4 C59.9,143.5 61.6,142.4 63.6,141.4 C65.7,140.4 67.9,139.3 70.0,138.2 C72.1,137.1 74.0,136.0 76.0,134.9 C78.0,133.8 80.1,132.6 81.9,131.4 C83.7,130.2 85.2,128.9 86.9,128.0 C88.6,127.1 90.2,126.4 91.8,126.0 C93.4,125.6 94.8,125.3 96.3,125.5 C97.8,125.7 99.4,126.1 100.8,127.0 C102.2,127.9 103.5,129.2 104.8,130.9 C106.1,132.6 107.5,134.9 108.7,136.9 C109.9,138.9 110.7,140.8 111.7,142.9 C112.7,145.1 114.0,147.5 114.7,149.8 C115.5,152.1 115.8,154.3 116.2,156.8 C116.6,159.3 116.9,161.9 117.2,164.7 C117.5,167.5 117.8,170.2 118.2,173.6 C118.6,177.0 119.0,181.8 119.4,185.0 C119.8,188.2 120.1,190.2 120.6,192.9 C121.0,195.6 121.8,198.2 122.1,200.9 C122.3,203.6 122.7,206.2 122.1,208.8 C121.5,211.5 119.8,214.3 118.6,216.8 C117.4,219.3 116.2,221.4 114.7,223.7 C113.2,226.0 111.4,228.7 109.7,230.7 C108.0,232.7 106.4,234.3 104.7,235.6 C103.0,236.9 101.3,238.0 99.8,238.6 C98.3,239.2 97.8,239.3 95.8,239.1 C93.8,238.9 90.9,238.3 87.9,237.6 C84.9,236.9 81.2,235.9 77.9,235.1 C74.6,234.3 70.9,233.6 68.0,232.7 C65.1,231.8 63.1,231.2 60.6,229.7 C58.1,228.2 55.3,225.9 52.7,223.7 C50.1,221.5 47.3,219.0 44.8,216.7 C42.3,214.4 40.0,212.1 37.8,209.8 C35.6,207.5 33.6,205.3 31.8,202.8 C30.0,200.3 28.4,197.5 26.9,194.9 C25.4,192.3 24.1,189.5 22.9,187.0 C21.7,184.5 20.4,182.1 19.5,180.0 C18.6,177.9 17.9,176.9 17.4,174.7 C16.9,172.5 16.5,169.1 16.5,166.7 C16.5,164.3 16.7,161.8 17.3,160.4Z" fill="none" stroke="#fff" stroke-width="3" opacity="0.6" filter="url(#soft)"/>
<g clip-path="url(#c2A)">
<path d="M17.3,160.4 C17.9,159.0 18.3,159.2 19.9,158.3 C21.5,157.5 24.4,156.3 26.9,155.3 C29.4,154.3 32.1,153.2 34.8,152.3 C37.4,151.4 40.1,150.7 42.8,149.8 C45.4,148.9 48.2,147.7 50.7,146.8 C53.2,145.9 55.6,145.3 57.7,144.4 C59.9,143.5 61.6,142.4 63.6,141.4 C65.7,140.4 67.9,139.3 70.0,138.2 C72.1,137.1 74.0,136.0 76.0,134.9 C78.0,133.8 80.1,132.6 81.9,131.4 C83.7,130.2 85.2,128.9 86.9,128.0 C88.6,127.1 90.2,126.4 91.8,126.0 C93.4,125.6 94.8,125.3 96.3,125.5 C97.8,125.7 99.4,126.1 100.8,127.0 C102.2,127.9 103.5,129.2 104.8,130.9 C106.1,132.6 107.5,134.9 108.7,136.9 C109.9,138.9 110.7,140.8 111.7,142.9 C112.7,145.1 114.0,147.5 114.7,149.8 C115.5,152.1 115.8,154.3 116.2,156.8 C116.6,159.3 116.9,161.9 117.2,164.7 C117.5,167.5 117.8,170.2 118.2,173.6 C118.6,177.0 119.0,181.8 119.4,185.0 C119.8,188.2 120.1,190.2 120.6,192.9 C121.0,195.6 121.8,198.2 122.1,200.9 C122.3,203.6 122.7,206.2 122.1,208.8 C121.5,211.5 119.8,214.3 118.6,216.8 C117.4,219.3 116.2,221.4 114.7,223.7 C113.2,226.0 111.4,228.7 109.7,230.7 C108.0,232.7 106.4,234.3 104.7,235.6 C103.0,236.9 101.3,238.0 99.8,238.6 C98.3,239.2 97.8,239.3 95.8,239.1 C93.8,238.9 90.9,238.3 87.9,237.6 C84.9,236.9 81.2,235.9 77.9,235.1 C74.6,234.3 70.9,233.6 68.0,232.7 C65.1,231.8 63.1,231.2 60.6,229.7 C58.1,228.2 55.3,225.9 52.7,223.7 C50.1,221.5 47.3,219.0 44.8,216.7 C42.3,214.4 40.0,212.1 37.8,209.8 C35.6,207.5 33.6,205.3 31.8,202.8 C30.0,200.3 28.4,197.5 26.9,194.9 C25.4,192.3 24.1,189.5 22.9,187.0 C21.7,184.5 20.4,182.1 19.5,180.0 C18.6,177.9 17.9,176.9 17.4,174.7 C16.9,172.5 16.5,169.1 16.5,166.7 C16.5,164.3 16.7,161.8 17.3,160.4Z" fill="url(#g2b)"/>
<path d="M20.9,158.8 L25.9,117.5 L83.9,117.5 L83.9,131.9 L85.9,139.9 L89.9,146.8 L93.8,154.8 L95.8,161.7 L96.3,171.7 L96.8,185.0 L97.8,194.9 L98.3,204.9 L98.3,214.8 L97.8,224.7 L96.8,228.0 L88.0,225.7 L79.0,222.0 L72.0,217.5 L66.0,212.5 L59.5,206.0 L54.0,200.0 L49.5,194.5 L45.7,189.0 L42.0,184.0 L39.0,177.0 L35.8,170.7 L31.8,165.7 L26.9,161.7Z" fill="url(#g2c)"/>
<path d="M83.9,131.9 L85.9,139.9 L89.9,146.8 L93.8,154.8 L95.8,161.7 L96.3,171.7 L96.8,185.0 L97.8,194.9 L98.3,204.9 L98.3,214.8 L97.8,224.7 L96.8,228.0 L124.1,249.1 L124.1,115.5 L83.9,115.5Z" fill="url(#g2r)"/>
<path d="M20.9,158.8 L26.9,161.7 L31.8,165.7 L35.8,170.7 L39.0,177.0 L42.0,184.0 L45.7,189.0 L49.5,194.5 L54.0,200.0 L59.5,206.0 L66.0,212.5 L72.0,217.5 L79.0,222.0 L88.0,225.7 L96.8,228.0 L122.1,249.1 L6.5,249.1Z" fill="url(#gbot)"/>
<rect x="16.5" y="125.5" width="105.6" height="113.6" fill="#000" filter="url(#grain)" opacity="0.18"/>
<path d="M83.9,131.9 L85.9,139.9 L89.9,146.8 L93.8,154.8 L95.8,161.7 L96.3,171.7 L96.8,185.0 L97.8,194.9 L98.3,204.9 L98.3,214.8 L97.8,224.7 L96.8,228.0 L124.1,249.1 L124.1,115.5 L83.9,115.5Z" fill="#000" filter="url(#grain)" opacity="0.22"/>
<path d="M20.9,158.8 L26.9,161.7 L31.8,165.7 L35.8,170.7 L39.0,177.0 L42.0,184.0 L45.7,189.0 L49.5,194.5 L54.0,200.0 L59.5,206.0 L66.0,212.5 L72.0,217.5 L79.0,222.0 L88.0,225.7 L96.8,228.0 L122.1,249.1 L6.5,249.1Z" fill="#000" filter="url(#grain)" opacity="0.28"/>
<line x1="15.0" y1="197.0" x2="123.0" y2="149.7" stroke="#1a1a1a" stroke-width="1.6" stroke-dasharray="1.5,1.2" opacity="0.85"/>
<line x1="15.0" y1="209.7" x2="123.0" y2="162.4" stroke="#1a1a1a" stroke-width="1.6" stroke-dasharray="1.5,1.2" opacity="0.85"/>
<line x1="15.0" y1="219.9" x2="123.0" y2="172.6" stroke="#1a1a1a" stroke-width="1.4" stroke-dasharray="1.5,1.2" opacity="0.55"/>
<line x1="15.0" y1="230.0" x2="123.0" y2="182.7" stroke="#1a1a1a" stroke-width="1.4" stroke-dasharray="1.5,1.2" opacity="0.5"/>
<line x1="15.0" y1="240.2" x2="123.0" y2="192.9" stroke="#1a1a1a" stroke-width="1.4" stroke-dasharray="1.5,1.2" opacity="0.45"/>
<line x1="15.0" y1="250.3" x2="123.0" y2="203.0" stroke="#1a1a1a" stroke-width="1.4" stroke-dasharray="1.5,1.2" opacity="0.4"/>
<path d="M20.9,158.8 C21.9,159.3 25.1,160.5 26.9,161.7 C28.7,162.8 30.3,164.2 31.8,165.7 C33.3,167.2 34.6,168.8 35.8,170.7 C37.0,172.6 38.0,174.8 39.0,177.0 C40.0,179.2 40.9,182.0 42.0,184.0 C43.1,186.0 44.5,187.2 45.7,189.0 C47.0,190.8 48.1,192.7 49.5,194.5 C50.9,196.3 52.3,198.1 54.0,200.0 C55.7,201.9 57.5,203.9 59.5,206.0 C61.5,208.1 63.9,210.6 66.0,212.5 C68.1,214.4 69.8,215.9 72.0,217.5 C74.2,219.1 76.3,220.6 79.0,222.0 C81.7,223.4 85.0,224.7 88.0,225.7 C91.0,226.7 95.3,227.6 96.8,228.0" fill="none" stroke="#444" stroke-width="1.1"/>
<path d="M83.9,131.9 C84.2,133.2 84.9,137.4 85.9,139.9 C86.9,142.4 88.6,144.3 89.9,146.8 C91.2,149.3 92.8,152.3 93.8,154.8 C94.8,157.3 95.4,158.9 95.8,161.7 C96.2,164.5 96.1,167.8 96.3,171.7 C96.5,175.6 96.5,181.1 96.8,185.0 C97.0,188.9 97.5,191.6 97.8,194.9 C98.0,198.2 98.2,201.6 98.3,204.9 C98.4,208.2 98.4,211.5 98.3,214.8 C98.2,218.1 98.0,222.5 97.8,224.7 C97.5,226.9 97.0,227.4 96.8,228.0" fill="none" stroke="#444" stroke-width="1.1"/>
<path d="M17.8,163.0 C18.2,162.7 18.8,161.8 20.4,160.9 C22.0,160.1 24.9,158.9 27.4,157.9 C29.9,156.9 32.6,155.8 35.3,154.9 C37.9,154.0 40.6,153.3 43.3,152.4 C45.9,151.5 48.7,150.3 51.2,149.4 C53.7,148.5 56.1,147.9 58.2,147.0 C60.4,146.1 62.0,145.0 64.1,144.0 C66.1,143.0 68.4,141.9 70.5,140.8 C72.6,139.7 74.5,138.6 76.5,137.5 C78.5,136.4 81.4,134.6 82.4,134.0" fill="none" stroke="#555" stroke-width="0.9" opacity="0.6"/>
<path d="M17.3,160.4 C17.9,159.0 18.3,159.2 19.9,158.3 C21.5,157.5 24.4,156.3 26.9,155.3 C29.4,154.3 32.1,153.2 34.8,152.3 C37.4,151.4 40.1,150.7 42.8,149.8 C45.4,148.9 48.2,147.7 50.7,146.8 C53.2,145.9 55.6,145.3 57.7,144.4 C59.9,143.5 61.6,142.4 63.6,141.4 C65.7,140.4 67.9,139.3 70.0,138.2 C72.1,137.1 74.0,136.0 76.0,134.9 C78.0,133.8 80.1,132.6 81.9,131.4 C83.7,130.2 85.2,128.9 86.9,128.0 C88.6,127.1 90.2,126.4 91.8,126.0 C93.4,125.6 94.8,125.3 96.3,125.5 C97.8,125.7 99.4,126.1 100.8,127.0 C102.2,127.9 103.5,129.2 104.8,130.9 C106.1,132.6 107.5,134.9 108.7,136.9 C109.9,138.9 110.7,140.8 111.7,142.9 C112.7,145.1 114.0,147.5 114.7,149.8 C115.5,152.1 115.8,154.3 116.2,156.8 C116.6,159.3 116.9,161.9 117.2,164.7 C117.5,167.5 117.8,170.2 118.2,173.6 C118.6,177.0 119.0,181.8 119.4,185.0 C119.8,188.2 120.1,190.2 120.6,192.9 C121.0,195.6 121.8,198.2 122.1,200.9 C122.3,203.6 122.7,206.2 122.1,208.8 C121.5,211.5 119.8,214.3 118.6,216.8 C117.4,219.3 116.2,221.4 114.7,223.7 C113.2,226.0 111.4,228.7 109.7,230.7 C108.0,232.7 106.4,234.3 104.7,235.6 C103.0,236.9 101.3,238.0 99.8,238.6 C98.3,239.2 97.8,239.3 95.8,239.1 C93.8,238.9 90.9,238.3 87.9,237.6 C84.9,236.9 81.2,235.9 77.9,235.1 C74.6,234.3 70.9,233.6 68.0,232.7 C65.1,231.8 63.1,231.2 60.6,229.7 C58.1,228.2 55.3,225.9 52.7,223.7 C50.1,221.5 47.3,219.0 44.8,216.7 C42.3,214.4 40.0,212.1 37.8,209.8 C35.6,207.5 33.6,205.3 31.8,202.8 C30.0,200.3 28.4,197.5 26.9,194.9 C25.4,192.3 24.1,189.5 22.9,187.0 C21.7,184.5 20.4,182.1 19.5,180.0 C18.6,177.9 17.9,176.9 17.4,174.7 C16.9,172.5 16.5,169.1 16.5,166.7 C16.5,164.3 16.7,161.8 17.3,160.4Z" fill="none" stroke="#222" stroke-width="2.6" opacity="0.4"/>
</g>
<path d="M17.3,160.4 C17.9,159.0 18.3,159.2 19.9,158.3 C21.5,157.5 24.4,156.3 26.9,155.3 C29.4,154.3 32.1,153.2 34.8,152.3 C37.4,151.4 40.1,150.7 42.8,149.8 C45.4,148.9 48.2,147.7 50.7,146.8 C53.2,145.9 55.6,145.3 57.7,144.4 C59.9,143.5 61.6,142.4 63.6,141.4 C65.7,140.4 67.9,139.3 70.0,138.2 C72.1,137.1 74.0,136.0 76.0,134.9 C78.0,133.8 80.1,132.6 81.9,131.4 C83.7,130.2 85.2,128.9 86.9,128.0 C88.6,127.1 90.2,126.4 91.8,126.0 C93.4,125.6 94.8,125.3 96.3,125.5 C97.8,125.7 99.4,126.1 100.8,127.0 C102.2,127.9 103.5,129.2 104.8,130.9 C106.1,132.6 107.5,134.9 108.7,136.9 C109.9,138.9 110.7,140.8 111.7,142.9 C112.7,145.1 114.0,147.5 114.7,149.8 C115.5,152.1 115.8,154.3 116.2,156.8 C116.6,159.3 116.9,161.9 117.2,164.7 C117.5,167.5 117.8,170.2 118.2,173.6 C118.6,177.0 119.0,181.8 119.4,185.0 C119.8,188.2 120.1,190.2 120.6,192.9 C121.0,195.6 121.8,198.2 122.1,200.9 C122.3,203.6 122.7,206.2 122.1,208.8 C121.5,211.5 119.8,214.3 118.6,216.8 C117.4,219.3 116.2,221.4 114.7,223.7 C113.2,226.0 111.4,228.7 109.7,230.7 C108.0,232.7 106.4,234.3 104.7,235.6 C103.0,236.9 101.3,238.0 99.8,238.6 C98.3,239.2 97.8,239.3 95.8,239.1 C93.8,238.9 90.9,238.3 87.9,237.6 C84.9,236.9 81.2,235.9 77.9,235.1 C74.6,234.3 70.9,233.6 68.0,232.7 C65.1,231.8 63.1,231.2 60.6,229.7 C58.1,228.2 55.3,225.9 52.7,223.7 C50.1,221.5 47.3,219.0 44.8,216.7 C42.3,214.4 40.0,212.1 37.8,209.8 C35.6,207.5 33.6,205.3 31.8,202.8 C30.0,200.3 28.4,197.5 26.9,194.9 C25.4,192.3 24.1,189.5 22.9,187.0 C21.7,184.5 20.4,182.1 19.5,180.0 C18.6,177.9 17.9,176.9 17.4,174.7 C16.9,172.5 16.5,169.1 16.5,166.7 C16.5,164.3 16.7,161.8 17.3,160.4Z" fill="none" stroke="#2a2a2a" stroke-width="1"/><path d="M140.2,160.3 C141.4,159.0 143.4,158.0 146.6,156.6 C149.8,155.2 154.8,153.6 159.3,152.1 C163.9,150.6 169.4,149.0 173.9,147.5 C178.4,146.0 182.9,144.4 186.6,142.9 C190.2,141.4 193.4,139.9 195.8,138.4 C198.2,136.9 199.4,135.2 201.2,133.8 C203.0,132.4 204.7,131.0 206.7,130.2 C208.7,129.4 211.0,128.8 213.1,128.9 C215.2,129.1 217.4,129.8 219.4,131.1 C221.4,132.4 223.4,134.5 224.9,136.6 C226.4,138.7 227.4,141.2 228.5,143.9 C229.6,146.6 230.7,150.0 231.3,153.0 C231.9,156.0 231.9,159.0 232.2,162.0 C232.5,165.0 232.7,168.0 233.0,171.0 C233.3,174.0 233.6,177.2 233.9,180.0 C234.2,182.8 234.7,185.2 235.1,187.9 C235.5,190.6 236.3,193.1 236.6,195.9 C236.9,198.7 237.3,202.2 237.1,204.8 C236.9,207.5 236.5,209.3 235.6,211.8 C234.7,214.3 233.2,217.0 231.7,219.7 C230.2,222.3 228.4,225.2 226.7,227.7 C225.0,230.2 223.3,232.8 221.7,234.6 C220.0,236.4 218.5,237.8 216.8,238.6 C215.2,239.4 213.8,239.6 211.8,239.6 C209.8,239.6 207.7,239.3 204.9,238.6 C202.1,237.9 197.6,236.3 194.9,235.6 C192.2,234.9 191.0,235.3 188.6,234.6 C186.2,233.9 183.3,232.9 180.7,231.6 C178.0,230.3 175.3,228.5 172.7,226.7 C170.0,224.9 167.3,222.8 164.8,220.7 C162.3,218.5 160.0,216.3 157.8,213.8 C155.7,211.3 153.7,208.6 151.9,205.8 C150.1,203.0 148.4,199.9 146.9,196.9 C145.4,193.9 143.9,190.7 142.9,187.9 C141.9,185.1 141.6,183.0 141.0,180.0 C140.4,177.0 139.8,172.6 139.6,170.0 C139.3,167.4 139.4,166.1 139.5,164.5 C139.6,162.9 139.0,161.6 140.2,160.3Z" fill="none" stroke="#fff" stroke-width="3" opacity="0.6" filter="url(#soft)"/>
<g clip-path="url(#c2B)">
<path d="M140.2,160.3 C141.4,159.0 143.4,158.0 146.6,156.6 C149.8,155.2 154.8,153.6 159.3,152.1 C163.9,150.6 169.4,149.0 173.9,147.5 C178.4,146.0 182.9,144.4 186.6,142.9 C190.2,141.4 193.4,139.9 195.8,138.4 C198.2,136.9 199.4,135.2 201.2,133.8 C203.0,132.4 204.7,131.0 206.7,130.2 C208.7,129.4 211.0,128.8 213.1,128.9 C215.2,129.1 217.4,129.8 219.4,131.1 C221.4,132.4 223.4,134.5 224.9,136.6 C226.4,138.7 227.4,141.2 228.5,143.9 C229.6,146.6 230.7,150.0 231.3,153.0 C231.9,156.0 231.9,159.0 232.2,162.0 C232.5,165.0 232.7,168.0 233.0,171.0 C233.3,174.0 233.6,177.2 233.9,180.0 C234.2,182.8 234.7,185.2 235.1,187.9 C235.5,190.6 236.3,193.1 236.6,195.9 C236.9,198.7 237.3,202.2 237.1,204.8 C236.9,207.5 236.5,209.3 235.6,211.8 C234.7,214.3 233.2,217.0 231.7,219.7 C230.2,222.3 228.4,225.2 226.7,227.7 C225.0,230.2 223.3,232.8 221.7,234.6 C220.0,236.4 218.5,237.8 216.8,238.6 C215.2,239.4 213.8,239.6 211.8,239.6 C209.8,239.6 207.7,239.3 204.9,238.6 C202.1,237.9 197.6,236.3 194.9,235.6 C192.2,234.9 191.0,235.3 188.6,234.6 C186.2,233.9 183.3,232.9 180.7,231.6 C178.0,230.3 175.3,228.5 172.7,226.7 C170.0,224.9 167.3,222.8 164.8,220.7 C162.3,218.5 160.0,216.3 157.8,213.8 C155.7,211.3 153.7,208.6 151.9,205.8 C150.1,203.0 148.4,199.9 146.9,196.9 C145.4,193.9 143.9,190.7 142.9,187.9 C141.9,185.1 141.6,183.0 141.0,180.0 C140.4,177.0 139.8,172.6 139.6,170.0 C139.3,167.4 139.4,166.1 139.5,164.5 C139.6,162.9 139.0,161.6 140.2,160.3Z" fill="url(#g2b)"/>
<path d="M143.8,159.1 L148.8,120.9 L202.1,120.9 L202.1,134.7 L204.9,143.9 L208.5,153.0 L211.5,164.0 L213.5,179.0 L214.5,190.0 L214.8,200.0 L214.8,209.8 L214.3,219.7 L212.8,228.7 L204.9,226.7 L195.0,223.5 L189.6,220.2 L181.7,213.8 L174.7,205.8 L168.8,196.9 L163.8,187.9 L159.8,180.0 L158.0,176.5 L155.0,171.0 L150.2,164.6Z" fill="url(#g2c)"/>
<path d="M202.1,134.7 L204.9,143.9 L208.5,153.0 L211.5,164.0 L213.5,179.0 L214.5,190.0 L214.8,200.0 L214.8,209.8 L214.3,219.7 L212.8,228.7 L239.1,249.6 L239.1,118.9 L202.1,118.9Z" fill="url(#g2r)"/>
<path d="M143.8,159.1 L150.2,164.6 L155.0,171.0 L158.0,176.5 L159.8,180.0 L163.8,187.9 L168.8,196.9 L174.7,205.8 L181.7,213.8 L189.6,220.2 L195.0,223.5 L204.9,226.7 L212.8,228.7 L237.1,249.6 L129.5,249.6Z" fill="url(#gbot)"/>
<rect x="139.5" y="128.9" width="97.6" height="110.69999999999999" fill="#000" filter="url(#grain)" opacity="0.18"/>
<path d="M202.1,134.7 L204.9,143.9 L208.5,153.0 L211.5,164.0 L213.5,179.0 L214.5,190.0 L214.8,200.0 L214.8,209.8 L214.3,219.7 L212.8,228.7 L239.1,249.6 L239.1,118.9 L202.1,118.9Z" fill="#000" filter="url(#grain)" opacity="0.22"/>
<path d="M143.8,159.1 L150.2,164.6 L155.0,171.0 L158.0,176.5 L159.8,180.0 L163.8,187.9 L168.8,196.9 L174.7,205.8 L181.7,213.8 L189.6,220.2 L195.0,223.5 L204.9,226.7 L212.8,228.7 L237.1,249.6 L129.5,249.6Z" fill="#000" filter="url(#grain)" opacity="0.28"/>
<line x1="138.0" y1="196.5" x2="238.0" y2="155.5" stroke="#1a1a1a" stroke-width="1.6" stroke-dasharray="1.5,1.2" opacity="0.85"/>
<line x1="138.0" y1="207.8" x2="238.0" y2="166.8" stroke="#1a1a1a" stroke-width="1.6" stroke-dasharray="1.5,1.2" opacity="0.85"/>
<line x1="138.0" y1="216.8" x2="238.0" y2="175.8" stroke="#1a1a1a" stroke-width="1.4" stroke-dasharray="1.5,1.2" opacity="0.55"/>
<line x1="138.0" y1="225.9" x2="238.0" y2="184.9" stroke="#1a1a1a" stroke-width="1.4" stroke-dasharray="1.5,1.2" opacity="0.5"/>
<line x1="138.0" y1="234.9" x2="238.0" y2="193.9" stroke="#1a1a1a" stroke-width="1.4" stroke-dasharray="1.5,1.2" opacity="0.45"/>
<line x1="138.0" y1="244.0" x2="238.0" y2="203.0" stroke="#1a1a1a" stroke-width="1.4" stroke-dasharray="1.5,1.2" opacity="0.4"/>
<path d="M143.8,159.1 C144.9,160.0 148.3,162.6 150.2,164.6 C152.1,166.6 153.7,169.0 155.0,171.0 C156.3,173.0 157.2,175.0 158.0,176.5 C158.8,178.0 158.8,178.1 159.8,180.0 C160.8,181.9 162.3,185.1 163.8,187.9 C165.3,190.7 167.0,193.9 168.8,196.9 C170.6,199.9 172.5,203.0 174.7,205.8 C176.8,208.6 179.2,211.4 181.7,213.8 C184.2,216.2 187.4,218.6 189.6,220.2 C191.8,221.8 192.4,222.4 195.0,223.5 C197.6,224.6 201.9,225.8 204.9,226.7 C207.9,227.6 211.5,228.4 212.8,228.7" fill="none" stroke="#444" stroke-width="1.1"/>
<path d="M202.1,134.7 C202.6,136.2 203.8,140.8 204.9,143.9 C206.0,147.0 207.4,149.7 208.5,153.0 C209.6,156.3 210.7,159.7 211.5,164.0 C212.3,168.3 213.0,174.7 213.5,179.0 C214.0,183.3 214.3,186.5 214.5,190.0 C214.7,193.5 214.8,196.7 214.8,200.0 C214.9,203.3 214.9,206.5 214.8,209.8 C214.7,213.1 214.6,216.5 214.3,219.7 C214.0,222.8 213.1,227.2 212.8,228.7" fill="none" stroke="#444" stroke-width="1.1"/>
<path d="M140.7,162.9 C141.8,162.3 143.9,160.6 147.1,159.2 C150.3,157.8 155.2,156.2 159.8,154.7 C164.4,153.2 169.9,151.6 174.4,150.1 C178.9,148.6 183.4,147.0 187.1,145.5 C190.8,144.0 193.9,142.5 196.3,141.0 C198.7,139.5 200.8,137.2 201.7,136.4" fill="none" stroke="#555" stroke-width="0.9" opacity="0.6"/>
<path d="M140.2,160.3 C141.4,159.0 143.4,158.0 146.6,156.6 C149.8,155.2 154.8,153.6 159.3,152.1 C163.9,150.6 169.4,149.0 173.9,147.5 C178.4,146.0 182.9,144.4 186.6,142.9 C190.2,141.4 193.4,139.9 195.8,138.4 C198.2,136.9 199.4,135.2 201.2,133.8 C203.0,132.4 204.7,131.0 206.7,130.2 C208.7,129.4 211.0,128.8 213.1,128.9 C215.2,129.1 217.4,129.8 219.4,131.1 C221.4,132.4 223.4,134.5 224.9,136.6 C226.4,138.7 227.4,141.2 228.5,143.9 C229.6,146.6 230.7,150.0 231.3,153.0 C231.9,156.0 231.9,159.0 232.2,162.0 C232.5,165.0 232.7,168.0 233.0,171.0 C233.3,174.0 233.6,177.2 233.9,180.0 C234.2,182.8 234.7,185.2 235.1,187.9 C235.5,190.6 236.3,193.1 236.6,195.9 C236.9,198.7 237.3,202.2 237.1,204.8 C236.9,207.5 236.5,209.3 235.6,211.8 C234.7,214.3 233.2,217.0 231.7,219.7 C230.2,222.3 228.4,225.2 226.7,227.7 C225.0,230.2 223.3,232.8 221.7,234.6 C220.0,236.4 218.5,237.8 216.8,238.6 C215.2,239.4 213.8,239.6 211.8,239.6 C209.8,239.6 207.7,239.3 204.9,238.6 C202.1,237.9 197.6,236.3 194.9,235.6 C192.2,234.9 191.0,235.3 188.6,234.6 C186.2,233.9 183.3,232.9 180.7,231.6 C178.0,230.3 175.3,228.5 172.7,226.7 C170.0,224.9 167.3,222.8 164.8,220.7 C162.3,218.5 160.0,216.3 157.8,213.8 C155.7,211.3 153.7,208.6 151.9,205.8 C150.1,203.0 148.4,199.9 146.9,196.9 C145.4,193.9 143.9,190.7 142.9,187.9 C141.9,185.1 141.6,183.0 141.0,180.0 C140.4,177.0 139.8,172.6 139.6,170.0 C139.3,167.4 139.4,166.1 139.5,164.5 C139.6,162.9 139.0,161.6 140.2,160.3Z" fill="none" stroke="#222" stroke-width="2.6" opacity="0.4"/>
</g>
<path d="M140.2,160.3 C141.4,159.0 143.4,158.0 146.6,156.6 C149.8,155.2 154.8,153.6 159.3,152.1 C163.9,150.6 169.4,149.0 173.9,147.5 C178.4,146.0 182.9,144.4 186.6,142.9 C190.2,141.4 193.4,139.9 195.8,138.4 C198.2,136.9 199.4,135.2 201.2,133.8 C203.0,132.4 204.7,131.0 206.7,130.2 C208.7,129.4 211.0,128.8 213.1,128.9 C215.2,129.1 217.4,129.8 219.4,131.1 C221.4,132.4 223.4,134.5 224.9,136.6 C226.4,138.7 227.4,141.2 228.5,143.9 C229.6,146.6 230.7,150.0 231.3,153.0 C231.9,156.0 231.9,159.0 232.2,162.0 C232.5,165.0 232.7,168.0 233.0,171.0 C233.3,174.0 233.6,177.2 233.9,180.0 C234.2,182.8 234.7,185.2 235.1,187.9 C235.5,190.6 236.3,193.1 236.6,195.9 C236.9,198.7 237.3,202.2 237.1,204.8 C236.9,207.5 236.5,209.3 235.6,211.8 C234.7,214.3 233.2,217.0 231.7,219.7 C230.2,222.3 228.4,225.2 226.7,227.7 C225.0,230.2 223.3,232.8 221.7,234.6 C220.0,236.4 218.5,237.8 216.8,238.6 C215.2,239.4 213.8,239.6 211.8,239.6 C209.8,239.6 207.7,239.3 204.9,238.6 C202.1,237.9 197.6,236.3 194.9,235.6 C192.2,234.9 191.0,235.3 188.6,234.6 C186.2,233.9 183.3,232.9 180.7,231.6 C178.0,230.3 175.3,228.5 172.7,226.7 C170.0,224.9 167.3,222.8 164.8,220.7 C162.3,218.5 160.0,216.3 157.8,213.8 C155.7,211.3 153.7,208.6 151.9,205.8 C150.1,203.0 148.4,199.9 146.9,196.9 C145.4,193.9 143.9,190.7 142.9,187.9 C141.9,185.1 141.6,183.0 141.0,180.0 C140.4,177.0 139.8,172.6 139.6,170.0 C139.3,167.4 139.4,166.1 139.5,164.5 C139.6,162.9 139.0,161.6 140.2,160.3Z" fill="none" stroke="#2a2a2a" stroke-width="1"/><path d="M260.9,164.2 C262.1,162.3 263.7,161.0 266.4,159.6 C269.1,158.2 273.1,157.2 277.3,156.0 C281.6,154.8 287.3,153.7 291.9,152.3 C296.4,150.9 301.0,149.2 304.6,147.8 C308.2,146.4 311.1,145.3 313.8,144.1 C316.5,142.9 318.9,141.6 321.0,140.5 C323.1,139.4 324.7,138.5 326.5,137.8 C328.3,137.1 330.2,136.3 332.0,136.3 C333.8,136.3 335.6,136.8 337.4,137.8 C339.2,138.8 341.2,140.2 342.9,142.3 C344.6,144.4 346.4,147.6 347.5,150.5 C348.6,153.4 349.4,156.3 349.8,159.6 C350.2,162.8 349.9,166.6 350.0,170.0 C350.1,173.4 349.9,177.0 350.3,180.0 C350.7,183.0 351.6,185.1 352.1,187.9 C352.7,190.7 353.3,194.1 353.6,196.9 C353.9,199.7 354.4,202.3 354.1,204.8 C353.8,207.3 352.7,209.5 351.6,211.8 C350.5,214.1 349.2,216.4 347.7,218.7 C346.2,221.0 344.4,223.4 342.7,225.7 C341.0,228.0 339.3,230.5 337.7,232.6 C336.1,234.7 334.4,236.9 332.8,238.1 C331.2,239.3 330.0,239.5 327.8,239.6 C325.6,239.7 322.9,239.2 319.9,238.6 C316.9,238.0 312.8,236.8 309.9,236.1 C307.0,235.4 305.4,235.5 302.7,234.6 C300.0,233.7 296.5,232.1 293.7,230.6 C290.9,229.1 288.3,227.5 285.8,225.7 C283.3,223.9 281.0,221.7 278.8,219.7 C276.6,217.7 274.7,216.0 272.9,213.8 C271.1,211.7 269.4,209.3 267.9,206.8 C266.4,204.3 265.0,201.7 263.9,198.9 C262.8,196.1 261.7,193.1 261.0,189.9 C260.3,186.8 259.8,183.2 259.5,180.0 C259.2,176.8 259.0,173.6 259.2,171.0 C259.4,168.4 259.7,166.1 260.9,164.2Z" fill="none" stroke="#fff" stroke-width="3" opacity="0.6" filter="url(#soft)"/>
<g clip-path="url(#c2C)">
<path d="M260.9,164.2 C262.1,162.3 263.7,161.0 266.4,159.6 C269.1,158.2 273.1,157.2 277.3,156.0 C281.6,154.8 287.3,153.7 291.9,152.3 C296.4,150.9 301.0,149.2 304.6,147.8 C308.2,146.4 311.1,145.3 313.8,144.1 C316.5,142.9 318.9,141.6 321.0,140.5 C323.1,139.4 324.7,138.5 326.5,137.8 C328.3,137.1 330.2,136.3 332.0,136.3 C333.8,136.3 335.6,136.8 337.4,137.8 C339.2,138.8 341.2,140.2 342.9,142.3 C344.6,144.4 346.4,147.6 347.5,150.5 C348.6,153.4 349.4,156.3 349.8,159.6 C350.2,162.8 349.9,166.6 350.0,170.0 C350.1,173.4 349.9,177.0 350.3,180.0 C350.7,183.0 351.6,185.1 352.1,187.9 C352.7,190.7 353.3,194.1 353.6,196.9 C353.9,199.7 354.4,202.3 354.1,204.8 C353.8,207.3 352.7,209.5 351.6,211.8 C350.5,214.1 349.2,216.4 347.7,218.7 C346.2,221.0 344.4,223.4 342.7,225.7 C341.0,228.0 339.3,230.5 337.7,232.6 C336.1,234.7 334.4,236.9 332.8,238.1 C331.2,239.3 330.0,239.5 327.8,239.6 C325.6,239.7 322.9,239.2 319.9,238.6 C316.9,238.0 312.8,236.8 309.9,236.1 C307.0,235.4 305.4,235.5 302.7,234.6 C300.0,233.7 296.5,232.1 293.7,230.6 C290.9,229.1 288.3,227.5 285.8,225.7 C283.3,223.9 281.0,221.7 278.8,219.7 C276.6,217.7 274.7,216.0 272.9,213.8 C271.1,211.7 269.4,209.3 267.9,206.8 C266.4,204.3 265.0,201.7 263.9,198.9 C262.8,196.1 261.7,193.1 261.0,189.9 C260.3,186.8 259.8,183.2 259.5,180.0 C259.2,176.8 259.0,173.6 259.2,171.0 C259.4,168.4 259.7,166.1 260.9,164.2Z" fill="url(#g2b)"/>
<path d="M266.4,160.9 L271.4,128.3 L319.2,128.3 L319.2,141.4 L322.0,152.3 L324.7,161.4 L326.5,170.5 L327.3,180.0 L327.8,189.9 L327.8,199.9 L327.8,209.8 L327.3,219.7 L326.8,227.7 L319.9,225.2 L312.0,220.5 L305.6,216.7 L298.7,210.8 L292.7,203.8 L287.8,195.9 L283.8,187.9 L280.3,180.0 L278.0,173.0 L273.7,166.4Z" fill="url(#g2c)"/>
<path d="M319.2,141.4 L322.0,152.3 L324.7,161.4 L326.5,170.5 L327.3,180.0 L327.8,189.9 L327.8,199.9 L327.8,209.8 L327.3,219.7 L326.8,227.7 L356.1,249.6 L356.1,126.3 L319.2,126.3Z" fill="url(#g2r)"/>
<path d="M266.4,160.9 L273.7,166.4 L278.0,173.0 L280.3,180.0 L283.8,187.9 L287.8,195.9 L292.7,203.8 L298.7,210.8 L305.6,216.7 L312.0,220.5 L319.9,225.2 L326.8,227.7 L354.1,249.6 L249.2,249.6Z" fill="url(#gbot)"/>
<rect x="259.2" y="136.3" width="94.90000000000003" height="103.29999999999998" fill="#000" filter="url(#grain)" opacity="0.18"/>
<path d="M319.2,141.4 L322.0,152.3 L324.7,161.4 L326.5,170.5 L327.3,180.0 L327.8,189.9 L327.8,199.9 L327.8,209.8 L327.3,219.7 L326.8,227.7 L356.1,249.6 L356.1,126.3 L319.2,126.3Z" fill="#000" filter="url(#grain)" opacity="0.22"/>
<path d="M266.4,160.9 L273.7,166.4 L278.0,173.0 L280.3,180.0 L283.8,187.9 L287.8,195.9 L292.7,203.8 L298.7,210.8 L305.6,216.7 L312.0,220.5 L319.9,225.2 L326.8,227.7 L354.1,249.6 L249.2,249.6Z" fill="#000" filter="url(#grain)" opacity="0.28"/>
<line x1="257.0" y1="198.3" x2="356.0" y2="160.5" stroke="#1a1a1a" stroke-width="1.6" stroke-dasharray="1.5,1.2" opacity="0.85"/>
<line x1="257.0" y1="210.5" x2="356.0" y2="172.7" stroke="#1a1a1a" stroke-width="1.6" stroke-dasharray="1.5,1.2" opacity="0.85"/>
<line x1="257.0" y1="220.3" x2="356.0" y2="182.5" stroke="#1a1a1a" stroke-width="1.4" stroke-dasharray="1.5,1.2" opacity="0.55"/>
<line x1="257.0" y1="230.0" x2="356.0" y2="192.2" stroke="#1a1a1a" stroke-width="1.4" stroke-dasharray="1.5,1.2" opacity="0.5"/>
<line x1="257.0" y1="239.8" x2="356.0" y2="202.0" stroke="#1a1a1a" stroke-width="1.4" stroke-dasharray="1.5,1.2" opacity="0.45"/>
<line x1="257.0" y1="249.5" x2="356.0" y2="211.7" stroke="#1a1a1a" stroke-width="1.4" stroke-dasharray="1.5,1.2" opacity="0.4"/>
<path d="M266.4,160.9 C267.6,161.8 271.8,164.4 273.7,166.4 C275.6,168.4 276.9,170.7 278.0,173.0 C279.1,175.3 279.3,177.5 280.3,180.0 C281.3,182.5 282.6,185.2 283.8,187.9 C285.1,190.6 286.3,193.2 287.8,195.9 C289.3,198.6 290.9,201.3 292.7,203.8 C294.5,206.3 296.5,208.7 298.7,210.8 C300.9,213.0 303.4,215.1 305.6,216.7 C307.8,218.3 309.6,219.1 312.0,220.5 C314.4,221.9 317.4,224.0 319.9,225.2 C322.4,226.4 325.6,227.3 326.8,227.7" fill="none" stroke="#444" stroke-width="1.1"/>
<path d="M319.2,141.4 C319.7,143.2 321.1,149.0 322.0,152.3 C322.9,155.6 323.9,158.4 324.7,161.4 C325.4,164.4 326.1,167.4 326.5,170.5 C326.9,173.6 327.1,176.8 327.3,180.0 C327.5,183.2 327.7,186.6 327.8,189.9 C327.9,193.2 327.8,196.6 327.8,199.9 C327.8,203.2 327.9,206.5 327.8,209.8 C327.7,213.1 327.5,216.7 327.3,219.7 C327.1,222.7 326.9,226.4 326.8,227.7" fill="none" stroke="#444" stroke-width="1.1"/>
<path d="M266.9,162.2 C268.7,161.6 273.6,159.8 277.8,158.6 C282.1,157.4 287.8,156.3 292.4,154.9 C296.9,153.5 301.5,151.8 305.1,150.4 C308.8,149.0 312.8,147.3 314.3,146.7" fill="none" stroke="#555" stroke-width="0.9" opacity="0.6"/>
<path d="M260.9,164.2 C262.1,162.3 263.7,161.0 266.4,159.6 C269.1,158.2 273.1,157.2 277.3,156.0 C281.6,154.8 287.3,153.7 291.9,152.3 C296.4,150.9 301.0,149.2 304.6,147.8 C308.2,146.4 311.1,145.3 313.8,144.1 C316.5,142.9 318.9,141.6 321.0,140.5 C323.1,139.4 324.7,138.5 326.5,137.8 C328.3,137.1 330.2,136.3 332.0,136.3 C333.8,136.3 335.6,136.8 337.4,137.8 C339.2,138.8 341.2,140.2 342.9,142.3 C344.6,144.4 346.4,147.6 347.5,150.5 C348.6,153.4 349.4,156.3 349.8,159.6 C350.2,162.8 349.9,166.6 350.0,170.0 C350.1,173.4 349.9,177.0 350.3,180.0 C350.7,183.0 351.6,185.1 352.1,187.9 C352.7,190.7 353.3,194.1 353.6,196.9 C353.9,199.7 354.4,202.3 354.1,204.8 C353.8,207.3 352.7,209.5 351.6,211.8 C350.5,214.1 349.2,216.4 347.7,218.7 C346.2,221.0 344.4,223.4 342.7,225.7 C341.0,228.0 339.3,230.5 337.7,232.6 C336.1,234.7 334.4,236.9 332.8,238.1 C331.2,239.3 330.0,239.5 327.8,239.6 C325.6,239.7 322.9,239.2 319.9,238.6 C316.9,238.0 312.8,236.8 309.9,236.1 C307.0,235.4 305.4,235.5 302.7,234.6 C300.0,233.7 296.5,232.1 293.7,230.6 C290.9,229.1 288.3,227.5 285.8,225.7 C283.3,223.9 281.0,221.7 278.8,219.7 C276.6,217.7 274.7,216.0 272.9,213.8 C271.1,211.7 269.4,209.3 267.9,206.8 C266.4,204.3 265.0,201.7 263.9,198.9 C262.8,196.1 261.7,193.1 261.0,189.9 C260.3,186.8 259.8,183.2 259.5,180.0 C259.2,176.8 259.0,173.6 259.2,171.0 C259.4,168.4 259.7,166.1 260.9,164.2Z" fill="none" stroke="#222" stroke-width="2.6" opacity="0.4"/>
</g>
<path d="M260.9,164.2 C262.1,162.3 263.7,161.0 266.4,159.6 C269.1,158.2 273.1,157.2 277.3,156.0 C281.6,154.8 287.3,153.7 291.9,152.3 C296.4,150.9 301.0,149.2 304.6,147.8 C308.2,146.4 311.1,145.3 313.8,144.1 C316.5,142.9 318.9,141.6 321.0,140.5 C323.1,139.4 324.7,138.5 326.5,137.8 C328.3,137.1 330.2,136.3 332.0,136.3 C333.8,136.3 335.6,136.8 337.4,137.8 C339.2,138.8 341.2,140.2 342.9,142.3 C344.6,144.4 346.4,147.6 347.5,150.5 C348.6,153.4 349.4,156.3 349.8,159.6 C350.2,162.8 349.9,166.6 350.0,170.0 C350.1,173.4 349.9,177.0 350.3,180.0 C350.7,183.0 351.6,185.1 352.1,187.9 C352.7,190.7 353.3,194.1 353.6,196.9 C353.9,199.7 354.4,202.3 354.1,204.8 C353.8,207.3 352.7,209.5 351.6,211.8 C350.5,214.1 349.2,216.4 347.7,218.7 C346.2,221.0 344.4,223.4 342.7,225.7 C341.0,228.0 339.3,230.5 337.7,232.6 C336.1,234.7 334.4,236.9 332.8,238.1 C331.2,239.3 330.0,239.5 327.8,239.6 C325.6,239.7 322.9,239.2 319.9,238.6 C316.9,238.0 312.8,236.8 309.9,236.1 C307.0,235.4 305.4,235.5 302.7,234.6 C300.0,233.7 296.5,232.1 293.7,230.6 C290.9,229.1 288.3,227.5 285.8,225.7 C283.3,223.9 281.0,221.7 278.8,219.7 C276.6,217.7 274.7,216.0 272.9,213.8 C271.1,211.7 269.4,209.3 267.9,206.8 C266.4,204.3 265.0,201.7 263.9,198.9 C262.8,196.1 261.7,193.1 261.0,189.9 C260.3,186.8 259.8,183.2 259.5,180.0 C259.2,176.8 259.0,173.6 259.2,171.0 C259.4,168.4 259.7,166.1 260.9,164.2Z" fill="none" stroke="#2a2a2a" stroke-width="1"/><path d="M376.8,164.2 C378.0,162.4 379.4,161.7 382.3,160.5 C385.2,159.3 390.0,158.1 394.1,156.9 C398.2,155.7 402.6,154.6 406.9,153.2 C411.1,151.8 416.0,150.1 419.6,148.7 C423.2,147.3 426.1,146.2 428.8,145.0 C431.5,143.8 433.9,142.5 436.0,141.4 C438.1,140.3 439.5,139.5 441.5,138.7 C443.5,137.9 445.8,136.8 447.9,136.8 C450.0,136.8 452.3,137.5 454.3,138.7 C456.3,139.9 458.2,141.8 459.7,144.1 C461.2,146.4 462.5,149.4 463.4,152.3 C464.2,155.2 464.4,158.3 464.8,161.4 C465.2,164.5 465.3,167.9 465.5,171.0 C465.7,174.1 465.7,176.8 466.1,180.0 C466.5,183.2 467.5,186.8 468.1,189.9 C468.7,193.1 469.3,196.1 469.6,198.9 C469.9,201.7 470.4,204.3 470.1,206.8 C469.8,209.3 468.7,211.5 467.6,213.8 C466.5,216.1 465.2,218.4 463.7,220.7 C462.2,223.0 460.4,225.5 458.7,227.7 C457.0,229.9 455.3,232.4 453.7,234.1 C452.1,235.8 450.6,236.9 448.8,237.6 C447.0,238.3 445.1,238.2 442.8,238.1 C440.5,238.0 437.9,237.5 434.9,237.1 C431.9,236.7 427.6,236.2 424.9,235.6 C422.2,235.0 421.2,234.6 418.7,233.6 C416.2,232.6 412.5,231.2 409.7,229.7 C406.9,228.2 404.3,226.5 401.8,224.7 C399.3,222.9 397.0,220.7 394.8,218.7 C392.6,216.7 390.7,215.0 388.9,212.8 C387.1,210.7 385.4,208.3 383.9,205.8 C382.4,203.3 381.0,200.7 379.9,197.9 C378.8,195.1 377.7,191.9 377.0,188.9 C376.3,185.9 375.8,183.0 375.5,180.0 C375.2,177.0 375.1,173.6 375.3,171.0 C375.5,168.4 375.6,165.9 376.8,164.2Z" fill="none" stroke="#fff" stroke-width="3" opacity="0.6" filter="url(#soft)"/>
<g clip-path="url(#c2D)">
<path d="M376.8,164.2 C378.0,162.4 379.4,161.7 382.3,160.5 C385.2,159.3 390.0,158.1 394.1,156.9 C398.2,155.7 402.6,154.6 406.9,153.2 C411.1,151.8 416.0,150.1 419.6,148.7 C423.2,147.3 426.1,146.2 428.8,145.0 C431.5,143.8 433.9,142.5 436.0,141.4 C438.1,140.3 439.5,139.5 441.5,138.7 C443.5,137.9 445.8,136.8 447.9,136.8 C450.0,136.8 452.3,137.5 454.3,138.7 C456.3,139.9 458.2,141.8 459.7,144.1 C461.2,146.4 462.5,149.4 463.4,152.3 C464.2,155.2 464.4,158.3 464.8,161.4 C465.2,164.5 465.3,167.9 465.5,171.0 C465.7,174.1 465.7,176.8 466.1,180.0 C466.5,183.2 467.5,186.8 468.1,189.9 C468.7,193.1 469.3,196.1 469.6,198.9 C469.9,201.7 470.4,204.3 470.1,206.8 C469.8,209.3 468.7,211.5 467.6,213.8 C466.5,216.1 465.2,218.4 463.7,220.7 C462.2,223.0 460.4,225.5 458.7,227.7 C457.0,229.9 455.3,232.4 453.7,234.1 C452.1,235.8 450.6,236.9 448.8,237.6 C447.0,238.3 445.1,238.2 442.8,238.1 C440.5,238.0 437.9,237.5 434.9,237.1 C431.9,236.7 427.6,236.2 424.9,235.6 C422.2,235.0 421.2,234.6 418.7,233.6 C416.2,232.6 412.5,231.2 409.7,229.7 C406.9,228.2 404.3,226.5 401.8,224.7 C399.3,222.9 397.0,220.7 394.8,218.7 C392.6,216.7 390.7,215.0 388.9,212.8 C387.1,210.7 385.4,208.3 383.9,205.8 C382.4,203.3 381.0,200.7 379.9,197.9 C378.8,195.1 377.7,191.9 377.0,188.9 C376.3,185.9 375.8,183.0 375.5,180.0 C375.2,177.0 375.1,173.6 375.3,171.0 C375.5,168.4 375.6,165.9 376.8,164.2Z" fill="url(#g2b)"/>
<path d="M383.2,161.8 L388.2,128.8 L433.3,128.8 L433.3,143.2 L437.0,152.3 L439.7,161.4 L441.5,171.0 L442.8,180.0 L443.3,189.9 L444.3,199.9 L444.8,209.8 L445.3,219.7 L445.8,227.7 L434.9,224.2 L426.0,219.5 L419.7,215.7 L412.7,209.8 L406.7,202.8 L401.8,195.9 L397.8,187.9 L394.8,180.0 L393.5,174.0 L390.5,168.2Z" fill="url(#g2c)"/>
<path d="M433.3,143.2 L437.0,152.3 L439.7,161.4 L441.5,171.0 L442.8,180.0 L443.3,189.9 L444.3,199.9 L444.8,209.8 L445.3,219.7 L445.8,227.7 L472.1,248.1 L472.1,126.8 L433.3,126.8Z" fill="url(#g2r)"/>
<path d="M383.2,161.8 L390.5,168.2 L393.5,174.0 L394.8,180.0 L397.8,187.9 L401.8,195.9 L406.7,202.8 L412.7,209.8 L419.7,215.7 L426.0,219.5 L434.9,224.2 L445.8,227.7 L470.1,248.1 L365.3,248.1Z" fill="url(#gbot)"/>
<rect x="375.3" y="136.8" width="94.80000000000001" height="101.29999999999998" fill="#000" filter="url(#grain)" opacity="0.18"/>
<path d="M433.3,143.2 L437.0,152.3 L439.7,161.4 L441.5,171.0 L442.8,180.0 L443.3,189.9 L444.3,199.9 L444.8,209.8 L445.3,219.7 L445.8,227.7 L472.1,248.1 L472.1,126.8 L433.3,126.8Z" fill="#000" filter="url(#grain)" opacity="0.22"/>
<path d="M383.2,161.8 L390.5,168.2 L393.5,174.0 L394.8,180.0 L397.8,187.9 L401.8,195.9 L406.7,202.8 L412.7,209.8 L419.7,215.7 L426.0,219.5 L434.9,224.2 L445.8,227.7 L470.1,248.1 L365.3,248.1Z" fill="#000" filter="url(#grain)" opacity="0.28"/>
<line x1="373.0" y1="199.4" x2="472.0" y2="159.0" stroke="#1a1a1a" stroke-width="1.6" stroke-dasharray="1.5,1.2" opacity="0.85"/>
<line x1="373.0" y1="212.5" x2="472.0" y2="172.1" stroke="#1a1a1a" stroke-width="1.6" stroke-dasharray="1.5,1.2" opacity="0.85"/>
<line x1="373.0" y1="223.0" x2="472.0" y2="182.6" stroke="#1a1a1a" stroke-width="1.4" stroke-dasharray="1.5,1.2" opacity="0.55"/>
<line x1="373.0" y1="233.5" x2="472.0" y2="193.1" stroke="#1a1a1a" stroke-width="1.4" stroke-dasharray="1.5,1.2" opacity="0.5"/>
<line x1="373.0" y1="243.9" x2="472.0" y2="203.5" stroke="#1a1a1a" stroke-width="1.4" stroke-dasharray="1.5,1.2" opacity="0.45"/>
<line x1="373.0" y1="254.4" x2="472.0" y2="214.0" stroke="#1a1a1a" stroke-width="1.4" stroke-dasharray="1.5,1.2" opacity="0.4"/>
<path d="M383.2,161.8 C384.4,162.9 388.8,166.2 390.5,168.2 C392.2,170.2 392.8,172.0 393.5,174.0 C394.2,176.0 394.1,177.7 394.8,180.0 C395.5,182.3 396.6,185.2 397.8,187.9 C399.0,190.6 400.3,193.4 401.8,195.9 C403.3,198.4 404.9,200.5 406.7,202.8 C408.5,205.1 410.5,207.7 412.7,209.8 C414.9,212.0 417.5,214.1 419.7,215.7 C421.9,217.3 423.5,218.1 426.0,219.5 C428.5,220.9 431.6,222.8 434.9,224.2 C438.2,225.6 444.0,227.1 445.8,227.7" fill="none" stroke="#444" stroke-width="1.1"/>
<path d="M433.3,143.2 C433.9,144.7 435.9,149.3 437.0,152.3 C438.1,155.3 438.9,158.3 439.7,161.4 C440.4,164.5 441.0,167.9 441.5,171.0 C442.0,174.1 442.5,176.8 442.8,180.0 C443.1,183.2 443.1,186.6 443.3,189.9 C443.6,193.2 444.1,196.6 444.3,199.9 C444.6,203.2 444.6,206.5 444.8,209.8 C445.0,213.1 445.1,216.7 445.3,219.7 C445.5,222.7 445.7,226.4 445.8,227.7" fill="none" stroke="#444" stroke-width="1.1"/>
<path d="M377.3,166.8 C378.2,166.2 379.9,164.3 382.8,163.1 C385.7,161.9 390.5,160.7 394.6,159.5 C398.7,158.3 403.1,157.2 407.4,155.8 C411.6,154.4 416.5,152.7 420.1,151.3 C423.8,149.9 427.8,148.2 429.3,147.6" fill="none" stroke="#555" stroke-width="0.9" opacity="0.6"/>
<path d="M376.8,164.2 C378.0,162.4 379.4,161.7 382.3,160.5 C385.2,159.3 390.0,158.1 394.1,156.9 C398.2,155.7 402.6,154.6 406.9,153.2 C411.1,151.8 416.0,150.1 419.6,148.7 C423.2,147.3 426.1,146.2 428.8,145.0 C431.5,143.8 433.9,142.5 436.0,141.4 C438.1,140.3 439.5,139.5 441.5,138.7 C443.5,137.9 445.8,136.8 447.9,136.8 C450.0,136.8 452.3,137.5 454.3,138.7 C456.3,139.9 458.2,141.8 459.7,144.1 C461.2,146.4 462.5,149.4 463.4,152.3 C464.2,155.2 464.4,158.3 464.8,161.4 C465.2,164.5 465.3,167.9 465.5,171.0 C465.7,174.1 465.7,176.8 466.1,180.0 C466.5,183.2 467.5,186.8 468.1,189.9 C468.7,193.1 469.3,196.1 469.6,198.9 C469.9,201.7 470.4,204.3 470.1,206.8 C469.8,209.3 468.7,211.5 467.6,213.8 C466.5,216.1 465.2,218.4 463.7,220.7 C462.2,223.0 460.4,225.5 458.7,227.7 C457.0,229.9 455.3,232.4 453.7,234.1 C452.1,235.8 450.6,236.9 448.8,237.6 C447.0,238.3 445.1,238.2 442.8,238.1 C440.5,238.0 437.9,237.5 434.9,237.1 C431.9,236.7 427.6,236.2 424.9,235.6 C422.2,235.0 421.2,234.6 418.7,233.6 C416.2,232.6 412.5,231.2 409.7,229.7 C406.9,228.2 404.3,226.5 401.8,224.7 C399.3,222.9 397.0,220.7 394.8,218.7 C392.6,216.7 390.7,215.0 388.9,212.8 C387.1,210.7 385.4,208.3 383.9,205.8 C382.4,203.3 381.0,200.7 379.9,197.9 C378.8,195.1 377.7,191.9 377.0,188.9 C376.3,185.9 375.8,183.0 375.5,180.0 C375.2,177.0 375.1,173.6 375.3,171.0 C375.5,168.4 375.6,165.9 376.8,164.2Z" fill="none" stroke="#222" stroke-width="2.6" opacity="0.4"/>
</g>
<path d="M376.8,164.2 C378.0,162.4 379.4,161.7 382.3,160.5 C385.2,159.3 390.0,158.1 394.1,156.9 C398.2,155.7 402.6,154.6 406.9,153.2 C411.1,151.8 416.0,150.1 419.6,148.7 C423.2,147.3 426.1,146.2 428.8,145.0 C431.5,143.8 433.9,142.5 436.0,141.4 C438.1,140.3 439.5,139.5 441.5,138.7 C443.5,137.9 445.8,136.8 447.9,136.8 C450.0,136.8 452.3,137.5 454.3,138.7 C456.3,139.9 458.2,141.8 459.7,144.1 C461.2,146.4 462.5,149.4 463.4,152.3 C464.2,155.2 464.4,158.3 464.8,161.4 C465.2,164.5 465.3,167.9 465.5,171.0 C465.7,174.1 465.7,176.8 466.1,180.0 C466.5,183.2 467.5,186.8 468.1,189.9 C468.7,193.1 469.3,196.1 469.6,198.9 C469.9,201.7 470.4,204.3 470.1,206.8 C469.8,209.3 468.7,211.5 467.6,213.8 C466.5,216.1 465.2,218.4 463.7,220.7 C462.2,223.0 460.4,225.5 458.7,227.7 C457.0,229.9 455.3,232.4 453.7,234.1 C452.1,235.8 450.6,236.9 448.8,237.6 C447.0,238.3 445.1,238.2 442.8,238.1 C440.5,238.0 437.9,237.5 434.9,237.1 C431.9,236.7 427.6,236.2 424.9,235.6 C422.2,235.0 421.2,234.6 418.7,233.6 C416.2,232.6 412.5,231.2 409.7,229.7 C406.9,228.2 404.3,226.5 401.8,224.7 C399.3,222.9 397.0,220.7 394.8,218.7 C392.6,216.7 390.7,215.0 388.9,212.8 C387.1,210.7 385.4,208.3 383.9,205.8 C382.4,203.3 381.0,200.7 379.9,197.9 C378.8,195.1 377.7,191.9 377.0,188.9 C376.3,185.9 375.8,183.0 375.5,180.0 C375.2,177.0 375.1,173.6 375.3,171.0 C375.5,168.4 375.6,165.9 376.8,164.2Z" fill="none" stroke="#2a2a2a" stroke-width="1"/><path d="M486.0,164.7 C486.6,163.7 487.4,162.9 488.9,162.2 C490.4,161.5 492.8,161.0 494.9,160.3 C497.0,159.6 499.3,158.6 501.8,157.8 C504.3,157.0 507.1,156.1 509.8,155.3 C512.5,154.5 515.4,153.7 517.7,152.8 C520.0,151.9 521.7,150.9 523.7,149.8 C525.7,148.7 527.7,147.5 529.7,146.4 C531.8,145.3 534.0,144.5 536.0,143.4 C538.0,142.3 540.1,141.1 541.9,139.9 C543.7,138.7 545.2,137.5 546.9,136.4 C548.5,135.3 550.1,134.2 551.8,133.4 C553.4,132.6 555.1,131.9 556.8,131.5 C558.5,131.1 560.3,131.0 561.8,131.2 C563.3,131.4 564.4,131.9 565.7,132.9 C567.0,133.9 568.4,135.2 569.7,136.9 C571.0,138.6 572.4,140.6 573.7,142.9 C575.0,145.2 576.7,148.3 577.7,150.8 C578.7,153.3 579.3,155.5 579.7,157.8 C580.1,160.1 580.0,162.2 580.1,164.7 C580.2,167.2 580.3,170.1 580.6,172.7 C580.9,175.3 581.4,178.2 582.0,180.3 C582.6,182.4 583.5,182.9 584.1,185.0 C584.7,187.1 585.1,189.9 585.6,192.9 C586.1,195.9 587.1,200.0 587.1,202.8 C587.1,205.6 586.5,207.0 585.6,209.8 C584.7,212.6 583.1,216.5 581.6,219.7 C580.1,222.8 578.4,226.0 576.7,228.7 C575.1,231.3 573.4,234.0 571.7,235.6 C570.0,237.2 568.7,237.7 566.7,238.1 C564.7,238.5 562.6,238.3 559.8,238.1 C557.0,237.9 553.2,237.5 549.9,237.1 C546.6,236.7 542.8,236.2 539.9,235.6 C537.0,235.0 535.1,234.4 532.6,233.6 C530.1,232.8 527.2,231.8 524.7,230.6 C522.2,229.4 520.0,228.2 517.7,226.7 C515.4,225.2 513.1,223.7 510.8,221.7 C508.5,219.7 506.0,217.3 503.8,214.8 C501.6,212.3 499.7,209.8 497.9,206.8 C496.1,203.8 494.3,200.1 492.9,196.9 C491.5,193.8 490.4,190.7 489.4,187.9 C488.4,185.1 487.6,182.7 487.0,180.0 C486.4,177.3 486.1,174.0 485.8,172.0 C485.6,170.0 485.5,169.2 485.5,168.0 C485.5,166.8 485.4,165.7 486.0,164.7Z" fill="none" stroke="#fff" stroke-width="3" opacity="0.6" filter="url(#soft)"/>
<g clip-path="url(#c2E)">
<path d="M486.0,164.7 C486.6,163.7 487.4,162.9 488.9,162.2 C490.4,161.5 492.8,161.0 494.9,160.3 C497.0,159.6 499.3,158.6 501.8,157.8 C504.3,157.0 507.1,156.1 509.8,155.3 C512.5,154.5 515.4,153.7 517.7,152.8 C520.0,151.9 521.7,150.9 523.7,149.8 C525.7,148.7 527.7,147.5 529.7,146.4 C531.8,145.3 534.0,144.5 536.0,143.4 C538.0,142.3 540.1,141.1 541.9,139.9 C543.7,138.7 545.2,137.5 546.9,136.4 C548.5,135.3 550.1,134.2 551.8,133.4 C553.4,132.6 555.1,131.9 556.8,131.5 C558.5,131.1 560.3,131.0 561.8,131.2 C563.3,131.4 564.4,131.9 565.7,132.9 C567.0,133.9 568.4,135.2 569.7,136.9 C571.0,138.6 572.4,140.6 573.7,142.9 C575.0,145.2 576.7,148.3 577.7,150.8 C578.7,153.3 579.3,155.5 579.7,157.8 C580.1,160.1 580.0,162.2 580.1,164.7 C580.2,167.2 580.3,170.1 580.6,172.7 C580.9,175.3 581.4,178.2 582.0,180.3 C582.6,182.4 583.5,182.9 584.1,185.0 C584.7,187.1 585.1,189.9 585.6,192.9 C586.1,195.9 587.1,200.0 587.1,202.8 C587.1,205.6 586.5,207.0 585.6,209.8 C584.7,212.6 583.1,216.5 581.6,219.7 C580.1,222.8 578.4,226.0 576.7,228.7 C575.1,231.3 573.4,234.0 571.7,235.6 C570.0,237.2 568.7,237.7 566.7,238.1 C564.7,238.5 562.6,238.3 559.8,238.1 C557.0,237.9 553.2,237.5 549.9,237.1 C546.6,236.7 542.8,236.2 539.9,235.6 C537.0,235.0 535.1,234.4 532.6,233.6 C530.1,232.8 527.2,231.8 524.7,230.6 C522.2,229.4 520.0,228.2 517.7,226.7 C515.4,225.2 513.1,223.7 510.8,221.7 C508.5,219.7 506.0,217.3 503.8,214.8 C501.6,212.3 499.7,209.8 497.9,206.8 C496.1,203.8 494.3,200.1 492.9,196.9 C491.5,193.8 490.4,190.7 489.4,187.9 C488.4,185.1 487.6,182.7 487.0,180.0 C486.4,177.3 486.1,174.0 485.8,172.0 C485.6,170.0 485.5,169.2 485.5,168.0 C485.5,166.8 485.4,165.7 486.0,164.7Z" fill="url(#g2b)"/>
<path d="M489.9,162.7 L494.9,123.2 L547.9,123.2 L547.9,137.9 L549.9,143.9 L552.3,149.8 L555.3,156.8 L557.8,163.7 L558.8,170.7 L559.3,178.6 L559.8,185.0 L560.8,199.9 L561.8,209.8 L562.5,219.7 L562.5,227.2 L549.9,223.7 L539.9,218.7 L530.0,212.8 L522.0,207.5 L516.0,201.0 L511.0,193.0 L507.5,186.0 L504.8,178.6 L501.8,172.7 L496.9,166.7Z" fill="url(#g2c)"/>
<path d="M547.9,137.9 L549.9,143.9 L552.3,149.8 L555.3,156.8 L557.8,163.7 L558.8,170.7 L559.3,178.6 L559.8,185.0 L560.8,199.9 L561.8,209.8 L562.5,219.7 L562.5,227.2 L589.1,248.1 L589.1,121.2 L547.9,121.2Z" fill="url(#g2r)"/>
<path d="M489.9,162.7 L496.9,166.7 L501.8,172.7 L504.8,178.6 L507.5,186.0 L511.0,193.0 L516.0,201.0 L522.0,207.5 L530.0,212.8 L539.9,218.7 L549.9,223.7 L562.5,227.2 L587.1,248.1 L475.5,248.1Z" fill="url(#gbot)"/>
<rect x="485.5" y="131.2" width="101.60000000000002" height="106.9" fill="#000" filter="url(#grain)" opacity="0.18"/>
<path d="M547.9,137.9 L549.9,143.9 L552.3,149.8 L555.3,156.8 L557.8,163.7 L558.8,170.7 L559.3,178.6 L559.8,185.0 L560.8,199.9 L561.8,209.8 L562.5,219.7 L562.5,227.2 L589.1,248.1 L589.1,121.2 L547.9,121.2Z" fill="#000" filter="url(#grain)" opacity="0.22"/>
<path d="M489.9,162.7 L496.9,166.7 L501.8,172.7 L504.8,178.6 L507.5,186.0 L511.0,193.0 L516.0,201.0 L522.0,207.5 L530.0,212.8 L539.9,218.7 L549.9,223.7 L562.5,227.2 L587.1,248.1 L475.5,248.1Z" fill="#000" filter="url(#grain)" opacity="0.28"/>
<line x1="483.0" y1="198.8" x2="590.0" y2="152.0" stroke="#1a1a1a" stroke-width="1.6" stroke-dasharray="1.5,1.2" opacity="0.85"/>
<line x1="483.0" y1="209.3" x2="590.0" y2="162.5" stroke="#1a1a1a" stroke-width="1.6" stroke-dasharray="1.5,1.2" opacity="0.85"/>
<line x1="483.0" y1="217.7" x2="590.0" y2="170.9" stroke="#1a1a1a" stroke-width="1.4" stroke-dasharray="1.5,1.2" opacity="0.55"/>
<line x1="483.0" y1="226.1" x2="590.0" y2="179.3" stroke="#1a1a1a" stroke-width="1.4" stroke-dasharray="1.5,1.2" opacity="0.5"/>
<line x1="483.0" y1="234.5" x2="590.0" y2="187.7" stroke="#1a1a1a" stroke-width="1.4" stroke-dasharray="1.5,1.2" opacity="0.45"/>
<line x1="483.0" y1="242.9" x2="590.0" y2="196.1" stroke="#1a1a1a" stroke-width="1.4" stroke-dasharray="1.5,1.2" opacity="0.4"/>
<path d="M489.9,162.7 C491.1,163.4 494.9,165.0 496.9,166.7 C498.9,168.4 500.5,170.7 501.8,172.7 C503.1,174.7 503.9,176.4 504.8,178.6 C505.8,180.8 506.5,183.6 507.5,186.0 C508.5,188.4 509.6,190.5 511.0,193.0 C512.4,195.5 514.2,198.6 516.0,201.0 C517.8,203.4 519.7,205.5 522.0,207.5 C524.3,209.5 527.0,210.9 530.0,212.8 C533.0,214.7 536.6,216.9 539.9,218.7 C543.2,220.5 546.1,222.3 549.9,223.7 C553.7,225.1 560.4,226.6 562.5,227.2" fill="none" stroke="#444" stroke-width="1.1"/>
<path d="M547.9,137.9 C548.2,138.9 549.2,141.9 549.9,143.9 C550.6,145.9 551.4,147.7 552.3,149.8 C553.2,152.0 554.4,154.5 555.3,156.8 C556.2,159.1 557.2,161.4 557.8,163.7 C558.4,166.0 558.5,168.2 558.8,170.7 C559.0,173.2 559.1,176.2 559.3,178.6 C559.5,181.0 559.5,181.4 559.8,185.0 C560.0,188.6 560.5,195.8 560.8,199.9 C561.1,204.0 561.5,206.5 561.8,209.8 C562.1,213.1 562.4,216.8 562.5,219.7 C562.6,222.6 562.5,225.9 562.5,227.2" fill="none" stroke="#444" stroke-width="1.1"/>
<path d="M486.5,167.3 C487.0,166.9 487.9,165.5 489.4,164.8 C490.9,164.1 493.2,163.6 495.4,162.9 C497.5,162.2 499.8,161.2 502.3,160.4 C504.8,159.6 507.6,158.7 510.3,157.9 C513.0,157.1 515.9,156.3 518.2,155.4 C520.5,154.5 522.2,153.5 524.2,152.4 C526.2,151.3 528.2,150.1 530.2,149.0 C532.2,147.9 534.5,147.1 536.5,146.0 C538.5,144.9 540.6,143.7 542.4,142.5 C544.2,141.3 546.6,139.6 547.4,139.0" fill="none" stroke="#555" stroke-width="0.9" opacity="0.6"/>
<path d="M486.0,164.7 C486.6,163.7 487.4,162.9 488.9,162.2 C490.4,161.5 492.8,161.0 494.9,160.3 C497.0,159.6 499.3,158.6 501.8,157.8 C504.3,157.0 507.1,156.1 509.8,155.3 C512.5,154.5 515.4,153.7 517.7,152.8 C520.0,151.9 521.7,150.9 523.7,149.8 C525.7,148.7 527.7,147.5 529.7,146.4 C531.8,145.3 534.0,144.5 536.0,143.4 C538.0,142.3 540.1,141.1 541.9,139.9 C543.7,138.7 545.2,137.5 546.9,136.4 C548.5,135.3 550.1,134.2 551.8,133.4 C553.4,132.6 555.1,131.9 556.8,131.5 C558.5,131.1 560.3,131.0 561.8,131.2 C563.3,131.4 564.4,131.9 565.7,132.9 C567.0,133.9 568.4,135.2 569.7,136.9 C571.0,138.6 572.4,140.6 573.7,142.9 C575.0,145.2 576.7,148.3 577.7,150.8 C578.7,153.3 579.3,155.5 579.7,157.8 C580.1,160.1 580.0,162.2 580.1,164.7 C580.2,167.2 580.3,170.1 580.6,172.7 C580.9,175.3 581.4,178.2 582.0,180.3 C582.6,182.4 583.5,182.9 584.1,185.0 C584.7,187.1 585.1,189.9 585.6,192.9 C586.1,195.9 587.1,200.0 587.1,202.8 C587.1,205.6 586.5,207.0 585.6,209.8 C584.7,212.6 583.1,216.5 581.6,219.7 C580.1,222.8 578.4,226.0 576.7,228.7 C575.1,231.3 573.4,234.0 571.7,235.6 C570.0,237.2 568.7,237.7 566.7,238.1 C564.7,238.5 562.6,238.3 559.8,238.1 C557.0,237.9 553.2,237.5 549.9,237.1 C546.6,236.7 542.8,236.2 539.9,235.6 C537.0,235.0 535.1,234.4 532.6,233.6 C530.1,232.8 527.2,231.8 524.7,230.6 C522.2,229.4 520.0,228.2 517.7,226.7 C515.4,225.2 513.1,223.7 510.8,221.7 C508.5,219.7 506.0,217.3 503.8,214.8 C501.6,212.3 499.7,209.8 497.9,206.8 C496.1,203.8 494.3,200.1 492.9,196.9 C491.5,193.8 490.4,190.7 489.4,187.9 C488.4,185.1 487.6,182.7 487.0,180.0 C486.4,177.3 486.1,174.0 485.8,172.0 C485.6,170.0 485.5,169.2 485.5,168.0 C485.5,166.8 485.4,165.7 486.0,164.7Z" fill="none" stroke="#222" stroke-width="2.6" opacity="0.4"/>
</g>
<path d="M486.0,164.7 C486.6,163.7 487.4,162.9 488.9,162.2 C490.4,161.5 492.8,161.0 494.9,160.3 C497.0,159.6 499.3,158.6 501.8,157.8 C504.3,157.0 507.1,156.1 509.8,155.3 C512.5,154.5 515.4,153.7 517.7,152.8 C520.0,151.9 521.7,150.9 523.7,149.8 C525.7,148.7 527.7,147.5 529.7,146.4 C531.8,145.3 534.0,144.5 536.0,143.4 C538.0,142.3 540.1,141.1 541.9,139.9 C543.7,138.7 545.2,137.5 546.9,136.4 C548.5,135.3 550.1,134.2 551.8,133.4 C553.4,132.6 555.1,131.9 556.8,131.5 C558.5,131.1 560.3,131.0 561.8,131.2 C563.3,131.4 564.4,131.9 565.7,132.9 C567.0,133.9 568.4,135.2 569.7,136.9 C571.0,138.6 572.4,140.6 573.7,142.9 C575.0,145.2 576.7,148.3 577.7,150.8 C578.7,153.3 579.3,155.5 579.7,157.8 C580.1,160.1 580.0,162.2 580.1,164.7 C580.2,167.2 580.3,170.1 580.6,172.7 C580.9,175.3 581.4,178.2 582.0,180.3 C582.6,182.4 583.5,182.9 584.1,185.0 C584.7,187.1 585.1,189.9 585.6,192.9 C586.1,195.9 587.1,200.0 587.1,202.8 C587.1,205.6 586.5,207.0 585.6,209.8 C584.7,212.6 583.1,216.5 581.6,219.7 C580.1,222.8 578.4,226.0 576.7,228.7 C575.1,231.3 573.4,234.0 571.7,235.6 C570.0,237.2 568.7,237.7 566.7,238.1 C564.7,238.5 562.6,238.3 559.8,238.1 C557.0,237.9 553.2,237.5 549.9,237.1 C546.6,236.7 542.8,236.2 539.9,235.6 C537.0,235.0 535.1,234.4 532.6,233.6 C530.1,232.8 527.2,231.8 524.7,230.6 C522.2,229.4 520.0,228.2 517.7,226.7 C515.4,225.2 513.1,223.7 510.8,221.7 C508.5,219.7 506.0,217.3 503.8,214.8 C501.6,212.3 499.7,209.8 497.9,206.8 C496.1,203.8 494.3,200.1 492.9,196.9 C491.5,193.8 490.4,190.7 489.4,187.9 C488.4,185.1 487.6,182.7 487.0,180.0 C486.4,177.3 486.1,174.0 485.8,172.0 C485.6,170.0 485.5,169.2 485.5,168.0 C485.5,166.8 485.4,165.7 486.0,164.7Z" fill="none" stroke="#2a2a2a" stroke-width="1"/>
<rect x="8.5" y="8" width="18" height="15" fill="#f6f6f6" opacity="0.7" filter="url(#soft)"/><text x="11.7" y="20.2" class="pl">A</text><rect x="124" y="8" width="18" height="15" fill="#f6f6f6" opacity="0.7" filter="url(#soft)"/><text x="127.2" y="20.2" class="pl">B</text><rect x="239" y="8" width="18" height="15" fill="#f6f6f6" opacity="0.7" filter="url(#soft)"/><text x="242.2" y="20.2" class="pl">C</text><rect x="355" y="8" width="18" height="15" fill="#f6f6f6" opacity="0.7" filter="url(#soft)"/><text x="358.2" y="20.2" class="pl">D</text><rect x="470" y="8" width="18" height="15" fill="#f6f6f6" opacity="0.7" filter="url(#soft)"/><text x="473.2" y="20.2" class="pl">E</text><rect x="8.7" y="124" width="18" height="15" fill="#f6f6f6" opacity="0.7" filter="url(#soft)"/><text x="11.899999999999999" y="135.6" class="pl">A</text><rect x="124.5" y="124" width="18" height="15" fill="#f6f6f6" opacity="0.7" filter="url(#soft)"/><text x="127.7" y="135.6" class="pl">B</text><rect x="240.3" y="124" width="18" height="15" fill="#f6f6f6" opacity="0.7" filter="url(#soft)"/><text x="243.5" y="135.6" class="pl">C</text><rect x="355.5" y="124" width="18" height="15" fill="#f6f6f6" opacity="0.7" filter="url(#soft)"/><text x="358.7" y="135.6" class="pl">D</text><rect x="472" y="124" width="18" height="15" fill="#f6f6f6" opacity="0.7" filter="url(#soft)"/><text x="475.2" y="135.6" class="pl">E</text>
<rect x="91.9" y="279.3" width="502.1" height="325.2" fill="none" stroke="#111" stroke-width="1.4"/>
<line x1="91.9" y1="604.5" x2="91.9" y2="599.5" stroke="#111" stroke-width="1.4"/>
<line x1="91.9" y1="279.3" x2="91.9" y2="284.3" stroke="#111" stroke-width="1.4"/>
<text x="91.9" y="625" text-anchor="middle" class="t">0</text>
<line x1="192.32000000000002" y1="604.5" x2="192.32000000000002" y2="599.5" stroke="#111" stroke-width="1.4"/>
<line x1="192.32000000000002" y1="279.3" x2="192.32000000000002" y2="284.3" stroke="#111" stroke-width="1.4"/>
<text x="192.32000000000002" y="625" text-anchor="middle" class="t">0.2</text>
<line x1="292.74" y1="604.5" x2="292.74" y2="599.5" stroke="#111" stroke-width="1.4"/>
<line x1="292.74" y1="279.3" x2="292.74" y2="284.3" stroke="#111" stroke-width="1.4"/>
<text x="292.74" y="625" text-anchor="middle" class="t">0.4</text>
<line x1="393.15999999999997" y1="604.5" x2="393.15999999999997" y2="599.5" stroke="#111" stroke-width="1.4"/>
<line x1="393.15999999999997" y1="279.3" x2="393.15999999999997" y2="284.3" stroke="#111" stroke-width="1.4"/>
<text x="393.15999999999997" y="625" text-anchor="middle" class="t">0.6</text>
<line x1="493.58000000000004" y1="604.5" x2="493.58000000000004" y2="599.5" stroke="#111" stroke-width="1.4"/>
<line x1="493.58000000000004" y1="279.3" x2="493.58000000000004" y2="284.3" stroke="#111" stroke-width="1.4"/>
<text x="493.58000000000004" y="625" text-anchor="middle" class="t">0.8</text>
<line x1="594.0" y1="604.5" x2="594.0" y2="599.5" stroke="#111" stroke-width="1.4"/>
<line x1="594.0" y1="279.3" x2="594.0" y2="284.3" stroke="#111" stroke-width="1.4"/>
<text x="594.0" y="625" text-anchor="middle" class="t">1</text>
<line x1="91.9" y1="279.3" x2="96.9" y2="279.3" stroke="#111" stroke-width="1.4"/>
<line x1="594" y1="279.3" x2="589" y2="279.3" stroke="#111" stroke-width="1.4"/>
<text x="88.5" y="286.3" text-anchor="end" class="t">0</text>
<line x1="91.9" y1="344.34000000000003" x2="96.9" y2="344.34000000000003" stroke="#111" stroke-width="1.4"/>
<line x1="594" y1="344.34000000000003" x2="589" y2="344.34000000000003" stroke="#111" stroke-width="1.4"/>
<text x="88.5" y="351.34000000000003" text-anchor="end" class="t">-0.05</text>
<line x1="91.9" y1="409.38" x2="96.9" y2="409.38" stroke="#111" stroke-width="1.4"/>
<line x1="594" y1="409.38" x2="589" y2="409.38" stroke="#111" stroke-width="1.4"/>
<text x="88.5" y="416.38" text-anchor="end" class="t">-0.1</text>
<line x1="91.9" y1="474.41999999999996" x2="96.9" y2="474.41999999999996" stroke="#111" stroke-width="1.4"/>
<line x1="594" y1="474.41999999999996" x2="589" y2="474.41999999999996" stroke="#111" stroke-width="1.4"/>
<text x="88.5" y="481.41999999999996" text-anchor="end" class="t">-0.15</text>
<line x1="91.9" y1="539.46" x2="96.9" y2="539.46" stroke="#111" stroke-width="1.4"/>
<line x1="594" y1="539.46" x2="589" y2="539.46" stroke="#111" stroke-width="1.4"/>
<text x="88.5" y="546.46" text-anchor="end" class="t">-0.2</text>
<line x1="91.9" y1="604.5" x2="96.9" y2="604.5" stroke="#111" stroke-width="1.4"/>
<line x1="594" y1="604.5" x2="589" y2="604.5" stroke="#111" stroke-width="1.4"/>
<text x="88.5" y="611.5" text-anchor="end" class="t">-0.25</text>
<line x1="108.5" y1="279.3" x2="108.5" y2="604.5" stroke="#222" stroke-width="1" stroke-dasharray="6,2.6,1.2,2.4"/>
<text x="112.2" y="602.5" class="L">A</text>
<line x1="187.5" y1="279.3" x2="187.5" y2="604.5" stroke="#222" stroke-width="1" stroke-dasharray="6,2.6,1.2,2.4"/>
<text x="191.2" y="602.5" class="L">B</text>
<line x1="265.5" y1="279.3" x2="265.5" y2="604.5" stroke="#222" stroke-width="1" stroke-dasharray="6,2.6,1.2,2.4"/>
<text x="269.2" y="602.5" class="L">C</text>
<line x1="342.5" y1="279.3" x2="342.5" y2="604.5" stroke="#222" stroke-width="1" stroke-dasharray="6,2.6,1.2,2.4"/>
<text x="346.2" y="602.5" class="L">D</text>
<line x1="421.5" y1="279.3" x2="421.5" y2="604.5" stroke="#222" stroke-width="1" stroke-dasharray="6,2.6,1.2,2.4"/>
<text x="425.2" y="602.5" class="L">E</text>
<polyline points="108.5,279.0 129.0,280.0 151.3,296.5 187.3,338.5 213.1,369.0 223.7,380.9 233.0,390.2 248.9,399.5 256.0,403.5 264.5,405.9 274.4,406.9 285.0,406.0 300.0,402.4 309.2,398.2 329.1,390.8 342.8,382.5 366.5,364.3 386.4,352.4 403.6,341.1 419.4,330.0 458.1,314.3" fill="none" stroke="#000" stroke-width="3.7" stroke-dasharray="7.6,3.3" stroke-linejoin="round"/>
<polyline points="108.5,279.0 129.0,310.6 149.6,370.0 166.5,426.2 207.7,516.8 224.9,547.3 246.1,556.6 284.0,557.1 304.4,522.1 322.4,450.0 342.8,382.5 348.9,370.6 362.8,350.0 382.1,337.2 400.0,335.1 419.4,327.7 443.2,318.7 459.6,308.3 482.0,303.2 499.2,301.5" fill="none" stroke="#000" stroke-width="3.7" stroke-linejoin="round"/>
<rect x="479.5" y="458" width="101" height="52" fill="#fff" stroke="#555" stroke-width="1"/>
<line x1="486.3" y1="471" x2="509.8" y2="471" stroke="#000" stroke-width="3.3" stroke-dasharray="6.3,2.7"/>
<line x1="484.3" y1="495.5" x2="509.8" y2="495.5" stroke="#000" stroke-width="3.3"/>
<text x="512.5" y="478" class="g">LVH</text>
<text x="512.5" y="503" class="g">Normal</text>
<text x="264" y="649.3" class="xl">Cardiac Cycle</text>
<text transform="translate(35,579) rotate(-90)" class="yl">Aerage Circumferenetial Strain</text>
</svg>
</body></html>
